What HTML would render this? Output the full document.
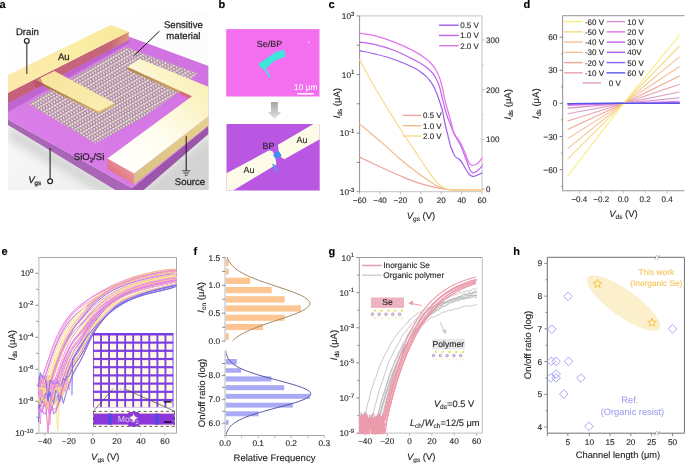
<!DOCTYPE html>
<html><head><meta charset="utf-8"><style>
html,body{margin:0;padding:0;background:#fff;}
svg{display:block;font-family:"Liberation Sans", sans-serif;will-change:transform;}
text{stroke-width:0.12px;text-rendering:geometricPrecision;}
text.ta{stroke-width:0.25px;}
</style></head><body>
<svg width="685" height="463" viewBox="0 0 685 463">
<rect width="685" height="463" fill="#fff"/>
<text x="-0.5" y="7.8" font-size="11" text-anchor="start" font-weight="bold" fill="#000"  stroke="#000">a</text>
<defs>
<clipPath id="clipA"><rect x="8" y="13" width="200.7" height="177"/></clipPath>
<linearGradient id="bgA" x1="0" y1="0" x2="0.3" y2="1">
 <stop offset="0" stop-color="#ffffff"/><stop offset="0.6" stop-color="#fbfbfb"/><stop offset="1" stop-color="#f1f1f1"/></linearGradient>
<filter id="blurA" x="-0.2" y="-0.2" width="1.4" height="1.4"><feGaussianBlur stdDeviation="5"/></filter>
<linearGradient id="shA" x1="0" y1="0" x2="1" y2="0">
 <stop offset="0" stop-color="#f2f2f2"/><stop offset="1" stop-color="#d6d6d6"/></linearGradient>
<linearGradient id="subTop" x1="0" y1="1" x2="1" y2="0">
 <stop offset="0" stop-color="#dc80ea"/><stop offset="0.5" stop-color="#d679e6"/><stop offset="1" stop-color="#cf70df"/></linearGradient>
<linearGradient id="drainTop" x1="0" y1="0" x2="1" y2="0">
 <stop offset="0" stop-color="#fbe9ac"/><stop offset="0.6" stop-color="#faeea4"/><stop offset="1" stop-color="#f8e898"/></linearGradient>
<linearGradient id="drainFront" x1="0" y1="0" x2="1" y2="0">
 <stop offset="0" stop-color="#c5607a"/><stop offset="0.85" stop-color="#c66678"/><stop offset="1" stop-color="#dc9a78"/></linearGradient>
<linearGradient id="drSh" x1="0" y1="0" x2="0" y2="1">
 <stop offset="0" stop-color="#9c4aae" stop-opacity="0.9"/><stop offset="1" stop-color="#c060d4" stop-opacity="0"/></linearGradient>
<linearGradient id="srcTop" x1="0" y1="1" x2="0.8" y2="0">
 <stop offset="0" stop-color="#ffffff"/><stop offset="0.45" stop-color="#fffdf0"/><stop offset="1" stop-color="#f9efb0"/></linearGradient>
<linearGradient id="srcFL" x1="0" y1="1" x2="1" y2="0">
 <stop offset="0" stop-color="#d65a7a"/><stop offset="0.6" stop-color="#e98b90"/><stop offset="1" stop-color="#f3c9a0"/></linearGradient>
<linearGradient id="srcFR" x1="0" y1="0" x2="1" y2="0">
 <stop offset="0" stop-color="#d9c283"/><stop offset="1" stop-color="#e6d08e"/></linearGradient>
<linearGradient id="fingD" x1="0" y1="0" x2="1" y2="1">
 <stop offset="0" stop-color="#f7e49a"/><stop offset="1" stop-color="#faeeb4"/></linearGradient>
<linearGradient id="fingS" x1="0" y1="0" x2="1" y2="0">
 <stop offset="0" stop-color="#b88a4a"/><stop offset="0.8" stop-color="#caa060"/><stop offset="1" stop-color="#d06a78"/></linearGradient>
<linearGradient id="fingS2" x1="0" y1="0" x2="1" y2="0">
 <stop offset="0" stop-color="#a86a40"/><stop offset="0.5" stop-color="#c09048"/><stop offset="1" stop-color="#d8b060"/></linearGradient>
<pattern id="latt" width="3.0" height="6.2" patternUnits="userSpaceOnUse" patternTransform="rotate(-30)">
 <rect width="3.0" height="6.2" fill="#a26cb0"/>
 <circle cx="0.75" cy="1.0" r="1.38" fill="#d8d0b4"/>
 <circle cx="2.25" cy="4.1" r="1.38" fill="#d8d0b4"/>
 <circle cx="3.75" cy="1.0" r="1.38" fill="#d8d0b4"/>
 <circle cx="0.75" cy="7.2" r="1.38" fill="#d8d0b4"/>
 <circle cx="0.6" cy="0.7" r="0.8" fill="#efebdc"/>
 <circle cx="2.1" cy="3.8" r="0.8" fill="#efebdc"/>
</pattern>
</defs>
<g clip-path="url(#clipA)">
<rect x="8" y="13" width="200.7" height="177" fill="url(#bgA)" />
<polygon points="8,124 132,198 215,132 215,200 140,215 8,140" fill="#c8c8c8" stroke="none" stroke-width="1" filter="url(#blurA)" opacity="0.75"/>
<polygon points="150,190 208.5,140 208.5,190" fill="#d4d4d4" stroke="none" stroke-width="1" filter="url(#blurA)" opacity="0.6"/>
<polygon points="8,119.5 132,188 132,200 8,125" fill="#a965b6" stroke="none" stroke-width="1" />
<polygon points="132,188 208.5,125.4 208.5,134 132,200" fill="#9c55ab" stroke="none" stroke-width="1" />
<polygon points="8,100 128,36.2 208.5,66 208.5,125.4 132,188 8,119.5" fill="url(#subTop)" stroke="none" stroke-width="1" />
<polygon points="8,103.3 128.8,40.1 128.8,43 8,112" fill="#a550b8" stroke="none" stroke-width="1" opacity="0.5"/>
<polygon points="27.8,103.5 125.4,46.9 197.5,73.3 172,97 140,119.8 95.3,143.4" fill="url(#latt)" stroke="none" stroke-width="1" />
<polygon points="27.8,103.5 125.4,46.9 197.5,73.3 172,97 140,119.8 95.3,143.4" fill="none" stroke="#cf8ad8" stroke-width="1.2" stroke-opacity="0.5"/>
<polygon points="8,92.8 128.8,31.8 128.8,40.1 8,103.3" fill="url(#drainFront)" stroke="none" stroke-width="1" />
<polygon points="8,75 110.7,25 128.8,31.8 8,92.8" fill="url(#drainTop)" stroke="none" stroke-width="1" />
<polygon points="36,80 98.6,111.4 98.6,113.6 36,82.5" fill="url(#fingS2)" stroke="none" stroke-width="1" />
<polygon points="98.6,111.4 114.6,103.2 114.6,105.6 98.6,113.6" fill="#dcb868" stroke="none" stroke-width="1" />
<polygon points="36,80 54.4,70.9 114.6,103.2 98.6,111.4" fill="url(#fingD)" stroke="none" stroke-width="1" />
<polygon points="33,81 40,77.5 44,85 36,88" fill="#b8486a" stroke="none" stroke-width="1" opacity="0.55"/>
<polygon points="127.3,66.8 192,96.3 192,99 127.3,69.4" fill="url(#fingS)" stroke="none" stroke-width="1" />
<polygon points="180,90.8 192,96.3 192,99.6 180,94.2" fill="#d46a7a" stroke="none" stroke-width="1" />
<polygon points="107.4,158.4 134.1,173.5 134.1,184.6 107.4,169.1" fill="url(#srcFL)" stroke="none" stroke-width="1" />
<polygon points="134.1,173.5 208.5,116.2 208.5,125.4 134.1,184.6" fill="url(#srcFR)" stroke="none" stroke-width="1" />
<polygon points="107.4,158.4 192,96.3 127.3,66.8 139.9,59 208.5,86.8 208.5,116.2 134.1,173.5" fill="url(#srcTop)" stroke="none" stroke-width="1" />
</g>
<text x="27.4" y="35" font-size="9.6" text-anchor="middle" font-weight="normal" fill="#231f20" class="ta" stroke="#231f20">Drain</text>
<circle cx="26.8" cy="40.9" r="2.4" fill="#fff" stroke="#222" stroke-width="1.2"/>
<line x1="26.8" y1="43.3" x2="26.8" y2="73.9" stroke="#333" stroke-width="1.1" />
<text x="63.8" y="59.6" font-size="9.6" text-anchor="middle" font-weight="normal" fill="#231f20" class="ta" stroke="#231f20">Au</text>
<text x="183.4" y="27.9" font-size="9.6" text-anchor="middle" font-weight="normal" fill="#231f20" class="ta" stroke="#231f20">Sensitive</text>
<text x="183.4" y="38.9" font-size="9.6" text-anchor="middle" font-weight="normal" fill="#231f20" class="ta" stroke="#231f20">material</text>
<line x1="159.4" y1="31.2" x2="134.3" y2="55.4" stroke="#111" stroke-width="1" />
<text class="ta" x="104.4" y="160.2" font-size="9.6" fill="#231f20" text-anchor="end" stroke="#231f20">SiO<tspan font-size="6.2" dy="2">2</tspan><tspan dy="-2">/Si</tspan></text>
<line x1="50.1" y1="148" x2="50.1" y2="179" stroke="#222" stroke-width="1.1" />
<circle cx="50.1" cy="181.3" r="2.4" fill="#fff" stroke="#222" stroke-width="1.2"/>
<text class="ta" x="28.2" y="182.7" font-size="9.6" fill="#231f20" stroke="#231f20"><tspan font-style="italic">V</tspan><tspan font-size="6.2" dy="2">gs</tspan></text>
<line x1="186.2" y1="136.2" x2="186.2" y2="170.8" stroke="#222" stroke-width="1.1" />
<line x1="182.2" y1="170.8" x2="190.2" y2="170.8" stroke="#222" stroke-width="0.8" />
<line x1="183.5" y1="173" x2="188.9" y2="173" stroke="#222" stroke-width="0.8" />
<line x1="184.8" y1="175.2" x2="187.6" y2="175.2" stroke="#222" stroke-width="0.8" />
<text x="190" y="185.2" font-size="9.6" text-anchor="middle" font-weight="normal" fill="#231f20" class="ta" stroke="#231f20">Source</text>
<text x="328.5" y="7.8" font-size="11" text-anchor="start" font-weight="bold" fill="#000"  stroke="#000">c</text>
<line x1="359.6" y1="15.9" x2="482" y2="15.9" stroke="#cfcfcf" stroke-width="1.3" />
<line x1="359.6" y1="191.7" x2="482" y2="191.7" stroke="#cfcfcf" stroke-width="1.3" />
<line x1="482" y1="15.9" x2="482" y2="191.7" stroke="#cfcfcf" stroke-width="1.3" />
<line x1="359.6" y1="15.9" x2="359.6" y2="191.7" stroke="#8f8f8f" stroke-width="1" />
<line x1="356.6" y1="191.7" x2="359.6" y2="191.7" stroke="#6d6e71" stroke-width="0.8" />
<line x1="356.6" y1="162.4" x2="359.6" y2="162.4" stroke="#6d6e71" stroke-width="0.8" />
<line x1="356.6" y1="133.1" x2="359.6" y2="133.1" stroke="#6d6e71" stroke-width="0.8" />
<line x1="356.6" y1="103.8" x2="359.6" y2="103.8" stroke="#6d6e71" stroke-width="0.8" />
<line x1="356.6" y1="74.5" x2="359.6" y2="74.5" stroke="#6d6e71" stroke-width="0.8" />
<line x1="356.6" y1="45.2" x2="359.6" y2="45.2" stroke="#6d6e71" stroke-width="0.8" />
<line x1="356.6" y1="15.9" x2="359.6" y2="15.9" stroke="#6d6e71" stroke-width="0.8" />
<text x="354.5" y="19" font-size="8.3" text-anchor="end" fill="#231f20" stroke="#231f20">10<tspan font-size="6.14" dy="-3.3">3</tspan></text>
<text x="354.5" y="77.6" font-size="8.3" text-anchor="end" fill="#231f20" stroke="#231f20">10<tspan font-size="6.14" dy="-3.3">1</tspan></text>
<text x="354.5" y="136.2" font-size="8.3" text-anchor="end" fill="#231f20" stroke="#231f20">10<tspan font-size="6.14" dy="-3.3">-1</tspan></text>
<text x="354.5" y="194.8" font-size="8.3" text-anchor="end" fill="#231f20" stroke="#231f20">10<tspan font-size="6.14" dy="-3.3">-3</tspan></text>
<line x1="359.6" y1="191.7" x2="359.6" y2="194.2" stroke="#a7a9ac" stroke-width="0.8" />
<text x="359.6" y="202.7" font-size="8" text-anchor="middle" font-weight="normal" fill="#231f20"  stroke="#231f20">−60</text>
<line x1="380" y1="191.7" x2="380" y2="194.2" stroke="#a7a9ac" stroke-width="0.8" />
<text x="380" y="202.7" font-size="8" text-anchor="middle" font-weight="normal" fill="#231f20"  stroke="#231f20">−40</text>
<line x1="400.4" y1="191.7" x2="400.4" y2="194.2" stroke="#a7a9ac" stroke-width="0.8" />
<text x="400.4" y="202.7" font-size="8" text-anchor="middle" font-weight="normal" fill="#231f20"  stroke="#231f20">−20</text>
<line x1="420.8" y1="191.7" x2="420.8" y2="194.2" stroke="#a7a9ac" stroke-width="0.8" />
<text x="420.8" y="202.7" font-size="8" text-anchor="middle" font-weight="normal" fill="#231f20"  stroke="#231f20">0</text>
<line x1="441.2" y1="191.7" x2="441.2" y2="194.2" stroke="#a7a9ac" stroke-width="0.8" />
<text x="441.2" y="202.7" font-size="8" text-anchor="middle" font-weight="normal" fill="#231f20"  stroke="#231f20">20</text>
<line x1="461.6" y1="191.7" x2="461.6" y2="194.2" stroke="#a7a9ac" stroke-width="0.8" />
<text x="461.6" y="202.7" font-size="8" text-anchor="middle" font-weight="normal" fill="#231f20"  stroke="#231f20">40</text>
<line x1="482" y1="191.7" x2="482" y2="194.2" stroke="#a7a9ac" stroke-width="0.8" />
<text x="482" y="202.7" font-size="8" text-anchor="middle" font-weight="normal" fill="#231f20"  stroke="#231f20">60</text>
<line x1="482" y1="189.2" x2="484.5" y2="189.2" stroke="#a7a9ac" stroke-width="0.8" />
<text x="486" y="192.1" font-size="8" text-anchor="start" font-weight="normal" fill="#231f20"  stroke="#231f20">0</text>
<line x1="482" y1="139.45" x2="484.5" y2="139.45" stroke="#a7a9ac" stroke-width="0.8" />
<text x="486" y="142.35" font-size="8" text-anchor="start" font-weight="normal" fill="#231f20"  stroke="#231f20">100</text>
<line x1="482" y1="89.7" x2="484.5" y2="89.7" stroke="#a7a9ac" stroke-width="0.8" />
<text x="486" y="92.6" font-size="8" text-anchor="start" font-weight="normal" fill="#231f20"  stroke="#231f20">200</text>
<line x1="482" y1="39.95" x2="484.5" y2="39.95" stroke="#a7a9ac" stroke-width="0.8" />
<text x="486" y="42.85" font-size="8" text-anchor="start" font-weight="normal" fill="#231f20"  stroke="#231f20">300</text>
<line x1="482" y1="164.32" x2="483.5" y2="164.32" stroke="#bcbec0" stroke-width="0.8" />
<line x1="482" y1="114.57" x2="483.5" y2="114.57" stroke="#bcbec0" stroke-width="0.8" />
<line x1="482" y1="64.82" x2="483.5" y2="64.82" stroke="#bcbec0" stroke-width="0.8" />
<text x="0" y="0" font-size="9.5" fill="#231f20" transform="translate(339.6 103.2) rotate(-90)" text-anchor="middle" stroke="#231f20"><tspan font-style="italic">I</tspan><tspan font-size="6.5" dy="2">ds</tspan><tspan dy="-2"> (μA)</tspan></text>
<text x="0" y="0" font-size="9.5" fill="#231f20" transform="translate(510.6 104.3) rotate(-90)" text-anchor="middle" stroke="#231f20"><tspan font-style="italic">I</tspan><tspan font-size="6.5" dy="2">ds</tspan><tspan dy="-2"> (μA)</tspan></text>
<text x="421" y="218.9" font-size="9.5" fill="#231f20" text-anchor="middle" stroke="#231f20"><tspan font-style="italic">V</tspan><tspan font-size="6.5" dy="2">gs</tspan><tspan dy="-2"> (V)</tspan></text>
<path d="M359.6,157.1 C363.87,159.12 378.42,166.08 385.2,169.2 C391.98,172.32 395.27,173.68 400.3,175.8 C405.33,177.92 410.37,180.13 415.4,181.9 C420.43,183.67 425.47,185.18 430.5,186.4 C435.53,187.62 441.52,188.62 445.6,189.2 C449.68,189.78 448.93,189.78 455,189.9 C461.07,190.02 477.5,189.9 482,189.9" fill="none" stroke="#f2a39c" stroke-width="1.2" stroke-linejoin="round" stroke-linecap="round" />
<path d="M359.6,123.9 C363.87,127.52 378.42,139.72 385.2,145.6 C391.98,151.48 395.27,154.92 400.3,159.2 C405.33,163.48 410.37,167.52 415.4,171.3 C420.43,175.08 426.47,179.28 430.5,181.9 C434.53,184.52 436.85,185.73 439.6,187 C442.35,188.27 444.43,189.02 447,189.5 C449.57,189.98 449.17,189.83 455,189.9 C460.83,189.97 477.5,189.9 482,189.9" fill="none" stroke="#f5b98a" stroke-width="1.2" stroke-linejoin="round" stroke-linecap="round" />
<path d="M359.6,59.5 C361.35,62.78 365.83,71.65 370.1,79.2 C374.37,86.75 380.17,96.5 385.2,104.8 C390.23,113.1 395.27,121.18 400.3,129 C405.33,136.82 410.37,144.15 415.4,151.7 C420.43,159.25 426.47,168.77 430.5,174.3 C434.53,179.83 437.08,182.53 439.6,184.9 C442.12,187.27 443.53,187.68 445.6,188.5 C447.67,189.32 445.93,189.57 452,189.8 C458.07,190.03 477,189.88 482,189.9" fill="none" stroke="#f9d98a" stroke-width="1.2" stroke-linejoin="round" stroke-linecap="round" />
<path d="M359.6,50.7 C362.07,51.22 368.5,52.3 374.4,53.8 C380.3,55.3 388.23,57.28 395,59.7 C401.77,62.12 410,65.68 415,68.3 C420,70.92 422.5,73.32 425,75.4 C427.5,77.48 428.5,78.87 430,80.8 C431.5,82.73 432.78,84.63 434,87 C435.22,89.37 436.28,92.33 437.3,95 C438.32,97.67 439.23,100.33 440.1,103 C440.97,105.67 441.8,108.17 442.5,111 C443.2,113.83 443.72,117.17 444.3,120 C444.88,122.83 445.45,125.67 446,128 C446.55,130.33 447.2,132.33 447.6,134 C448,135.67 448.13,136.92 448.4,138 C448.67,139.08 448.85,139.17 449.2,140.5 C449.55,141.83 449.95,144.25 450.5,146 C451.05,147.75 451.73,149.25 452.5,151 C453.27,152.75 454.18,155.25 455.1,156.5 C456.02,157.75 457.1,157.83 458,158.5 C458.9,159.17 459.7,159.58 460.5,160.5 C461.3,161.42 461.88,162.5 462.8,164 C463.72,165.5 464.97,167.83 466,169.5 C467.03,171.17 468.02,172.88 469,174 C469.98,175.12 470.9,175.87 471.9,176.2 C472.9,176.53 474.03,176.2 475,176 C475.97,175.8 476.53,175.5 477.7,175 C478.87,174.5 481.28,173.33 482,173" fill="none" stroke="#9b5cf0" stroke-width="1.2" stroke-linejoin="round" stroke-linecap="round" />
<path d="M359.6,42.1 C362.07,42.48 368.5,42.97 374.4,44.4 C380.3,45.83 388.23,48.07 395,50.7 C401.77,53.33 410,57.62 415,60.2 C420,62.78 422.17,64.15 425,66.2 C427.83,68.25 430.17,70.45 432,72.5 C433.83,74.55 434.78,76.25 436,78.5 C437.22,80.75 438.37,83.25 439.3,86 C440.23,88.75 440.9,92.17 441.6,95 C442.3,97.83 442.88,100.5 443.5,103 C444.12,105.5 444.63,107.67 445.3,110 C445.97,112.33 446.67,114.67 447.5,117 C448.33,119.33 449.47,121.83 450.3,124 C451.13,126.17 451.75,128.08 452.5,130 C453.25,131.92 453.93,133.83 454.8,135.5 C455.67,137.17 456.68,138.25 457.7,140 C458.72,141.75 459.93,143.92 460.9,146 C461.87,148.08 462.65,150.33 463.5,152.5 C464.35,154.67 465.2,156.83 466,159 C466.8,161.17 467.58,163.58 468.3,165.5 C469.02,167.42 469.58,169.28 470.3,170.5 C471.02,171.72 471.82,172.5 472.6,172.8 C473.38,173.1 474.03,172.77 475,172.3 C475.97,171.83 477.23,171.05 478.4,170 C479.57,168.95 481.4,166.67 482,166" fill="none" stroke="#c061ee" stroke-width="1.2" stroke-linejoin="round" stroke-linecap="round" />
<path d="M359.6,33.2 C362.07,33.62 368.5,34.17 374.4,35.7 C380.3,37.23 388.23,39.75 395,42.4 C401.77,45.05 410,48.98 415,51.6 C420,54.22 422.17,55.95 425,58.1 C427.83,60.25 430.08,62.35 432,64.5 C433.92,66.65 435.2,68.67 436.5,71 C437.8,73.33 438.87,75.92 439.8,78.5 C440.73,81.08 441.42,83.75 442.1,86.5 C442.78,89.25 443.3,92.25 443.9,95 C444.5,97.75 445.05,100.42 445.7,103 C446.35,105.58 447.05,107.83 447.8,110.5 C448.55,113.17 449.52,116.5 450.2,119 C450.88,121.5 451.38,123.5 451.9,125.5 C452.42,127.5 452.7,129.33 453.3,131 C453.9,132.67 454.58,134 455.5,135.5 C456.42,137 457.78,138.42 458.8,140 C459.82,141.58 460.77,143.33 461.6,145 C462.43,146.67 463.08,148.33 463.8,150 C464.52,151.67 465.23,153.33 465.9,155 C466.57,156.67 467.15,158.53 467.8,160 C468.45,161.47 469,162.92 469.8,163.8 C470.6,164.68 471.57,165.22 472.6,165.3 C473.63,165.38 474.93,164.85 476,164.3 C477.07,163.75 478,163.05 479,162 C480,160.95 481.5,158.67 482,158" fill="none" stroke="#e374ea" stroke-width="1.2" stroke-linejoin="round" stroke-linecap="round" />
<line x1="439" y1="25.2" x2="458.7" y2="25.2" stroke="#9b5cf0" stroke-width="1.4" />
<text x="460.2" y="28" font-size="8" text-anchor="start" font-weight="normal" fill="#231f20"  stroke="#231f20">0.5 V</text>
<line x1="439" y1="35.45" x2="458.7" y2="35.45" stroke="#c061ee" stroke-width="1.4" />
<text x="460.2" y="38.25" font-size="8" text-anchor="start" font-weight="normal" fill="#231f20"  stroke="#231f20">1.0 V</text>
<line x1="439" y1="45.7" x2="458.7" y2="45.7" stroke="#e374ea" stroke-width="1.4" />
<text x="460.2" y="48.5" font-size="8" text-anchor="start" font-weight="normal" fill="#231f20"  stroke="#231f20">2.0 V</text>
<line x1="402.7" y1="115.4" x2="421.4" y2="115.4" stroke="#f2a39c" stroke-width="1.4" />
<text x="423" y="118.2" font-size="8" text-anchor="start" font-weight="normal" fill="#231f20"  stroke="#231f20">0.5 V</text>
<line x1="402.7" y1="125.7" x2="421.4" y2="125.7" stroke="#f5b98a" stroke-width="1.4" />
<text x="423" y="128.5" font-size="8" text-anchor="start" font-weight="normal" fill="#231f20"  stroke="#231f20">1.0 V</text>
<line x1="402.7" y1="136" x2="421.4" y2="136" stroke="#f9d98a" stroke-width="1.4" />
<text x="423" y="138.8" font-size="8" text-anchor="start" font-weight="normal" fill="#231f20"  stroke="#231f20">2.0 V</text>
<text x="523.5" y="7.8" font-size="11" text-anchor="start" font-weight="bold" fill="#000"  stroke="#000">d</text>
<line x1="562.6" y1="15.6" x2="684.4" y2="15.6" stroke="#a8a8a8" stroke-width="1.1" />
<line x1="562.6" y1="190.8" x2="684.4" y2="190.8" stroke="#9a9a9a" stroke-width="1.1" />
<line x1="562.6" y1="15.6" x2="562.6" y2="190.8" stroke="#9a9a9a" stroke-width="1.1" />
<line x1="559.6" y1="37.2" x2="562.6" y2="37.2" stroke="#6d6e71" stroke-width="0.8" />
<text x="557.5" y="40.2" font-size="8.4" text-anchor="end" font-weight="normal" fill="#231f20"  stroke="#231f20">60</text>
<line x1="559.6" y1="70.3" x2="562.6" y2="70.3" stroke="#6d6e71" stroke-width="0.8" />
<text x="557.5" y="73.3" font-size="8.4" text-anchor="end" font-weight="normal" fill="#231f20"  stroke="#231f20">30</text>
<line x1="559.6" y1="103.4" x2="562.6" y2="103.4" stroke="#6d6e71" stroke-width="0.8" />
<text x="557.5" y="106.4" font-size="8.4" text-anchor="end" font-weight="normal" fill="#231f20"  stroke="#231f20">0</text>
<line x1="559.6" y1="136.5" x2="562.6" y2="136.5" stroke="#6d6e71" stroke-width="0.8" />
<text x="557.5" y="139.5" font-size="8.4" text-anchor="end" font-weight="normal" fill="#231f20"  stroke="#231f20">−30</text>
<line x1="559.6" y1="169.6" x2="562.6" y2="169.6" stroke="#6d6e71" stroke-width="0.8" />
<text x="557.5" y="172.6" font-size="8.4" text-anchor="end" font-weight="normal" fill="#231f20"  stroke="#231f20">−60</text>
<line x1="561.1" y1="53.75" x2="562.6" y2="53.75" stroke="#6d6e71" stroke-width="0.8" />
<line x1="561.1" y1="86.85" x2="562.6" y2="86.85" stroke="#6d6e71" stroke-width="0.8" />
<line x1="561.1" y1="119.95" x2="562.6" y2="119.95" stroke="#6d6e71" stroke-width="0.8" />
<line x1="561.1" y1="153.05" x2="562.6" y2="153.05" stroke="#6d6e71" stroke-width="0.8" />
<line x1="561.1" y1="186.15" x2="562.6" y2="186.15" stroke="#6d6e71" stroke-width="0.8" />
<line x1="579.3" y1="190.8" x2="579.3" y2="193.3" stroke="#a7a9ac" stroke-width="0.8" />
<text x="579.3" y="201.8" font-size="8" text-anchor="middle" font-weight="normal" fill="#231f20"  stroke="#231f20">−0.4</text>
<line x1="601.25" y1="190.8" x2="601.25" y2="193.3" stroke="#a7a9ac" stroke-width="0.8" />
<text x="601.25" y="201.8" font-size="8" text-anchor="middle" font-weight="normal" fill="#231f20"  stroke="#231f20">−0.2</text>
<line x1="623.2" y1="190.8" x2="623.2" y2="193.3" stroke="#a7a9ac" stroke-width="0.8" />
<text x="623.2" y="201.8" font-size="8" text-anchor="middle" font-weight="normal" fill="#231f20"  stroke="#231f20">0.0</text>
<line x1="645.15" y1="190.8" x2="645.15" y2="193.3" stroke="#a7a9ac" stroke-width="0.8" />
<text x="645.15" y="201.8" font-size="8" text-anchor="middle" font-weight="normal" fill="#231f20"  stroke="#231f20">0.2</text>
<line x1="667.1" y1="190.8" x2="667.1" y2="193.3" stroke="#a7a9ac" stroke-width="0.8" />
<text x="667.1" y="201.8" font-size="8" text-anchor="middle" font-weight="normal" fill="#231f20"  stroke="#231f20">0.4</text>
<line x1="568.33" y1="190.8" x2="568.33" y2="192.3" stroke="#bcbec0" stroke-width="0.8" />
<line x1="590.28" y1="190.8" x2="590.28" y2="192.3" stroke="#bcbec0" stroke-width="0.8" />
<line x1="612.23" y1="190.8" x2="612.23" y2="192.3" stroke="#bcbec0" stroke-width="0.8" />
<line x1="634.18" y1="190.8" x2="634.18" y2="192.3" stroke="#bcbec0" stroke-width="0.8" />
<line x1="656.12" y1="190.8" x2="656.12" y2="192.3" stroke="#bcbec0" stroke-width="0.8" />
<line x1="678.08" y1="190.8" x2="678.08" y2="192.3" stroke="#bcbec0" stroke-width="0.8" />
<text x="0" y="0" font-size="9.5" fill="#231f20" transform="translate(539.3 103.6) rotate(-90)" text-anchor="middle" stroke="#231f20"><tspan font-style="italic">I</tspan><tspan font-size="6.5" dy="2">ds</tspan><tspan dy="-2"> (μA)</tspan></text>
<text x="623.5" y="217.2" font-size="9.5" fill="#231f20" text-anchor="middle" stroke="#231f20"><tspan font-style="italic">V</tspan><tspan font-size="6.5" dy="2">ds</tspan><tspan dy="-2"> (V)</tspan></text>
<polyline points="567.6,103.6 623.5,103.4 679.6,103.3" fill="none" stroke="#5458e8" stroke-width="1.1"/>
<polyline points="567.6,103.7 623.5,103.4 679.6,103.2" fill="none" stroke="#8463f1" stroke-width="1.1"/>
<polyline points="567.6,103.9 623.5,103.4 679.6,103" fill="none" stroke="#a062f0" stroke-width="1.1"/>
<polyline points="567.6,104.3 623.5,103.4 679.6,102.6" fill="none" stroke="#c262ef" stroke-width="1.1"/>
<polyline points="567.6,105.5 623.5,103.4 679.6,101.2" fill="none" stroke="#e874e6" stroke-width="1.1"/>
<polyline points="567.6,108.1 623.5,103.4 679.6,97.7" fill="none" stroke="#d98fc9" stroke-width="1.1"/>
<polyline points="567.6,113.7 623.5,103.4 679.6,92" fill="none" stroke="#dba0c8" stroke-width="1.1"/>
<polyline points="567.6,121 623.5,103.4 679.6,84.2" fill="none" stroke="#e8a0ac" stroke-width="1.1"/>
<polyline points="567.6,129.4 623.5,103.4 679.6,76" fill="none" stroke="#f0a696" stroke-width="1.1"/>
<polyline points="567.6,138.6 623.5,103.4 679.6,66.5" fill="none" stroke="#f5bd90" stroke-width="1.1"/>
<polyline points="567.6,148.6 623.5,103.4 679.6,56.6" fill="none" stroke="#f7c28c" stroke-width="1.1"/>
<polyline points="567.6,159.1 623.5,103.4 679.6,46" fill="none" stroke="#f8d982" stroke-width="1.1"/>
<polyline points="567.6,176.1 623.5,103.4 679.6,35.2" fill="none" stroke="#f6ee83" stroke-width="1.1"/>
<polyline points="567.6,103.7 623.5,103.4 679.6,103.2" fill="none" stroke="#8463f1" stroke-width="1.3"/>
<polyline points="567.6,103.6 623.5,103.4 679.6,103.3" fill="none" stroke="#5458e8" stroke-width="1.3"/>
<line x1="564.3" y1="21.6" x2="582.7" y2="21.6" stroke="#f6ee83" stroke-width="1.4" />
<text x="584.9" y="24.5" font-size="8" text-anchor="start" font-weight="normal" fill="#231f20"  stroke="#231f20">-60 V</text>
<line x1="606.6" y1="21.6" x2="625.2" y2="21.6" stroke="#d98fc9" stroke-width="1.4" />
<text x="627.3" y="24.5" font-size="8" text-anchor="start" font-weight="normal" fill="#231f20"  stroke="#231f20">10 V</text>
<line x1="564.3" y1="31.85" x2="582.7" y2="31.85" stroke="#f8d982" stroke-width="1.4" />
<text x="584.9" y="34.75" font-size="8" text-anchor="start" font-weight="normal" fill="#231f20"  stroke="#231f20">-50 V</text>
<line x1="606.6" y1="31.85" x2="625.2" y2="31.85" stroke="#e874e6" stroke-width="1.4" />
<text x="627.3" y="34.75" font-size="8" text-anchor="start" font-weight="normal" fill="#231f20"  stroke="#231f20">20 V</text>
<line x1="564.3" y1="42.1" x2="582.7" y2="42.1" stroke="#f7c28c" stroke-width="1.4" />
<text x="584.9" y="45" font-size="8" text-anchor="start" font-weight="normal" fill="#231f20"  stroke="#231f20">-40 V</text>
<line x1="606.6" y1="42.1" x2="625.2" y2="42.1" stroke="#c262ef" stroke-width="1.4" />
<text x="627.3" y="45" font-size="8" text-anchor="start" font-weight="normal" fill="#231f20"  stroke="#231f20">30 V</text>
<line x1="564.3" y1="52.35" x2="582.7" y2="52.35" stroke="#f5bd90" stroke-width="1.4" />
<text x="584.9" y="55.25" font-size="8" text-anchor="start" font-weight="normal" fill="#231f20"  stroke="#231f20">-30 V</text>
<line x1="606.6" y1="52.35" x2="625.2" y2="52.35" stroke="#a062f0" stroke-width="1.4" />
<text x="627.3" y="55.25" font-size="8" text-anchor="start" font-weight="normal" fill="#231f20"  stroke="#231f20">40V</text>
<line x1="564.3" y1="62.6" x2="582.7" y2="62.6" stroke="#f0a696" stroke-width="1.4" />
<text x="584.9" y="65.5" font-size="8" text-anchor="start" font-weight="normal" fill="#231f20"  stroke="#231f20">-20 V</text>
<line x1="606.6" y1="62.6" x2="625.2" y2="62.6" stroke="#8463f1" stroke-width="1.4" />
<text x="627.3" y="65.5" font-size="8" text-anchor="start" font-weight="normal" fill="#231f20"  stroke="#231f20">50 V</text>
<line x1="564.3" y1="72.85" x2="582.7" y2="72.85" stroke="#e8a0ac" stroke-width="1.4" />
<text x="584.9" y="75.75" font-size="8" text-anchor="start" font-weight="normal" fill="#231f20"  stroke="#231f20">-10 V</text>
<line x1="606.6" y1="72.85" x2="625.2" y2="72.85" stroke="#5458e8" stroke-width="1.4" />
<text x="627.3" y="75.75" font-size="8" text-anchor="start" font-weight="normal" fill="#231f20"  stroke="#231f20">60 V</text>
<line x1="582.5" y1="82.9" x2="601" y2="82.9" stroke="#dba0c8" stroke-width="1.4" />
<text x="608.8" y="85.8" font-size="8" text-anchor="start" font-weight="normal" fill="#231f20"  stroke="#231f20">0 V</text>
<text x="1.5" y="255" font-size="11" text-anchor="start" font-weight="bold" fill="#000"  stroke="#000">e</text>
<line x1="38.4" y1="257.5" x2="176.5" y2="257.5" stroke="#a6a6a6" stroke-width="1" />
<line x1="38.4" y1="433.2" x2="176.5" y2="433.2" stroke="#a6a6a6" stroke-width="1" />
<line x1="176.5" y1="257.5" x2="176.5" y2="433.2" stroke="#a6a6a6" stroke-width="1" />
<line x1="38.8" y1="257.5" x2="38.8" y2="433.2" stroke="#d5d5d5" stroke-width="1.7" />
<line x1="35.4" y1="273.3" x2="38.4" y2="273.3" stroke="#6d6e71" stroke-width="0.8" />
<line x1="36.4" y1="289.3" x2="38.4" y2="289.3" stroke="#6d6e71" stroke-width="0.8" />
<line x1="35.4" y1="305.3" x2="38.4" y2="305.3" stroke="#6d6e71" stroke-width="0.8" />
<line x1="36.4" y1="321.3" x2="38.4" y2="321.3" stroke="#6d6e71" stroke-width="0.8" />
<line x1="35.4" y1="337.3" x2="38.4" y2="337.3" stroke="#6d6e71" stroke-width="0.8" />
<line x1="36.4" y1="353.3" x2="38.4" y2="353.3" stroke="#6d6e71" stroke-width="0.8" />
<line x1="35.4" y1="369.3" x2="38.4" y2="369.3" stroke="#6d6e71" stroke-width="0.8" />
<line x1="36.4" y1="385.3" x2="38.4" y2="385.3" stroke="#6d6e71" stroke-width="0.8" />
<line x1="35.4" y1="401.3" x2="38.4" y2="401.3" stroke="#6d6e71" stroke-width="0.8" />
<line x1="36.4" y1="417.3" x2="38.4" y2="417.3" stroke="#6d6e71" stroke-width="0.8" />
<line x1="35.4" y1="433.3" x2="38.4" y2="433.3" stroke="#6d6e71" stroke-width="0.8" />
<text x="33.3" y="276.4" font-size="8.3" text-anchor="end" fill="#231f20" stroke="#231f20">10<tspan font-size="6.14" dy="-3.3">0</tspan></text>
<text x="33.3" y="308.4" font-size="8.3" text-anchor="end" fill="#231f20" stroke="#231f20">10<tspan font-size="6.14" dy="-3.3">-2</tspan></text>
<text x="33.3" y="340.4" font-size="8.3" text-anchor="end" fill="#231f20" stroke="#231f20">10<tspan font-size="6.14" dy="-3.3">-4</tspan></text>
<text x="33.3" y="372.4" font-size="8.3" text-anchor="end" fill="#231f20" stroke="#231f20">10<tspan font-size="6.14" dy="-3.3">-6</tspan></text>
<text x="33.3" y="404.4" font-size="8.3" text-anchor="end" fill="#231f20" stroke="#231f20">10<tspan font-size="6.14" dy="-3.3">-8</tspan></text>
<text x="33.3" y="436.4" font-size="8.3" text-anchor="end" fill="#231f20" stroke="#231f20">10<tspan font-size="6.14" dy="-3.3">-10</tspan></text>
<line x1="44.9" y1="433.2" x2="44.9" y2="435.7" stroke="#a7a9ac" stroke-width="0.8" />
<text x="44.9" y="444.4" font-size="8.3" text-anchor="middle" font-weight="normal" fill="#231f20"  stroke="#231f20">−40</text>
<line x1="68.9" y1="433.2" x2="68.9" y2="435.7" stroke="#a7a9ac" stroke-width="0.8" />
<text x="68.9" y="444.4" font-size="8.3" text-anchor="middle" font-weight="normal" fill="#231f20"  stroke="#231f20">−20</text>
<line x1="92.9" y1="433.2" x2="92.9" y2="435.7" stroke="#a7a9ac" stroke-width="0.8" />
<text x="92.9" y="444.4" font-size="8.3" text-anchor="middle" font-weight="normal" fill="#231f20"  stroke="#231f20">0</text>
<line x1="116.9" y1="433.2" x2="116.9" y2="435.7" stroke="#a7a9ac" stroke-width="0.8" />
<text x="116.9" y="444.4" font-size="8.3" text-anchor="middle" font-weight="normal" fill="#231f20"  stroke="#231f20">20</text>
<line x1="140.9" y1="433.2" x2="140.9" y2="435.7" stroke="#a7a9ac" stroke-width="0.8" />
<text x="140.9" y="444.4" font-size="8.3" text-anchor="middle" font-weight="normal" fill="#231f20"  stroke="#231f20">40</text>
<line x1="164.9" y1="433.2" x2="164.9" y2="435.7" stroke="#a7a9ac" stroke-width="0.8" />
<text x="164.9" y="444.4" font-size="8.3" text-anchor="middle" font-weight="normal" fill="#231f20"  stroke="#231f20">60</text>
<text x="0" y="0" font-size="9.5" fill="#231f20" transform="translate(14.6 345.2) rotate(-90)" text-anchor="middle" stroke="#231f20"><tspan font-style="italic">I</tspan><tspan font-size="6.46" dy="2">ds</tspan><tspan dy="-2"> (μA)</tspan></text>
<text x="105.3" y="459.8" font-size="9.5" fill="#231f20" text-anchor="middle" stroke="#231f20"><tspan font-style="italic">V</tspan><tspan font-size="6.46" dy="2">gs</tspan><tspan dy="-2"> (V)</tspan></text>
<polyline points="38.42,402.67 40.34,410.23 42.26,410.61 44.18,405.18 46.1,398.31 48.02,391.48 51.02,381.05 54.02,371.45 57.02,363.09 60.02,355.53 63.02,348.72 66.02,342.75 69.02,337.54 72.02,333.19 75.02,329.79 78.02,327.03 81.02,324.43 84.02,321.58 87.02,318.54 90.02,315.45 93.02,312.53 96.02,310 99.02,307.76 102.02,305.54 105.02,303.38 108.02,301.31 111.02,299.34 114.02,297.53 117.02,295.91 120.02,294.49 123.02,293.17 126.02,291.94 129.02,290.79 132.02,289.72 135.02,288.73 138.02,287.8 141.02,286.94 144.02,286.14 147.02,285.38 150.02,284.66 153.02,283.97 156.02,283.32 159.02,282.69 162.02,282.09 165.02,281.5 168.02,280.91 171.02,280.33 174.02,279.74" fill="none" stroke="#7070f0" stroke-width="0.95" stroke-linejoin="round" stroke-linecap="round" />
<polyline points="38.42,382.45 40.34,396.24 42.26,385.75 44.18,379.79 46.1,373.91 48.02,367.95 51.02,358.68 54.02,350.12 57.02,342.84 60.02,336.36 63.02,330.69 66.02,325.85 69.02,321.62 72.02,318.03 75.02,315.07 78.02,312.52 81.02,310.2 84.02,307.94 87.02,305.68 90.02,303.47 93.02,301.39 96.02,299.51 99.02,297.77 102.02,296.06 105.02,294.39 108.02,292.76 111.02,291.21 114.02,289.73 117.02,288.37 120.02,287.11 123.02,285.91 126.02,284.75 129.02,283.65 132.02,282.62 135.02,281.66 138.02,280.79 141.02,280 144.02,279.28 147.02,278.57 150.02,277.88 153.02,277.22 156.02,276.59 159.02,275.99 162.02,275.44 165.02,274.93 168.02,274.48 171.02,274.08 174.02,273.75" fill="none" stroke="#b467f2" stroke-width="0.95" stroke-linejoin="round" stroke-linecap="round" />
<polyline points="38.42,395.53 40.34,385.37 42.26,395.33 44.18,382.7 46.1,394.88 48.02,395.13 49.94,385.1 51.86,388.53 53.78,393.84 55.7,388.86 57.62,382.83 59.54,377.06 61.46,371.55 64.46,363.61 67.46,356.53 70.46,350.43 73.46,345.51 76.46,341.74 79.46,338.46 82.46,334.88 85.46,330.85 88.46,326.63 91.46,322.51 94.46,318.8 97.46,315.75 100.46,312.88 103.46,310.12 106.46,307.5 109.46,305.04 112.46,302.78 115.46,300.76 118.46,299.02 121.46,297.51 124.46,296.12 127.46,294.84 130.46,293.66 133.46,292.57 136.46,291.56 139.46,290.61 142.46,289.71 145.46,288.88 148.46,288.11 151.46,287.38 154.46,286.7 157.46,286.04 160.46,285.4 163.46,284.77 166.46,284.13 169.46,283.47 172.46,282.79 175.46,282.07" fill="none" stroke="#b467f2" stroke-width="0.95" stroke-linejoin="round" stroke-linecap="round" />
<polyline points="38.42,394.23 40.34,383.31 42.26,392.91 44.18,394.26 46.1,384.99 48.02,395.85 49.94,389.62 51.86,382.6 53.78,375.97 55.7,369.86 58.7,361.06 61.7,352.93 64.7,345.61 67.7,339.06 70.7,333.32 73.7,328.46 76.7,324.34 79.7,320.54 82.7,316.7 85.7,312.82 88.7,309.02 91.7,305.49 94.7,302.34 97.7,299.62 100.7,297.09 103.7,294.74 106.7,292.56 109.7,290.55 112.7,288.72 115.7,287.05 118.7,285.53 121.7,284.13 124.7,282.8 127.7,281.55 130.7,280.37 133.7,279.29 136.7,278.31 139.7,277.45 142.7,276.69 145.7,275.96 148.7,275.24 151.7,274.54 154.7,273.88 157.7,273.26 160.7,272.69 163.7,272.18 166.7,271.75 169.7,271.39 172.7,271.12 175.7,270.96" fill="none" stroke="#9a6af0" stroke-width="0.95" stroke-linejoin="round" stroke-linecap="round" />
<polyline points="38.42,390.23 40.34,393.2 42.26,391 44.18,389.15 46.1,380.69 48.02,386.23 49.94,391.87 51.86,381.42 53.78,390.91 55.7,383.85 57.62,391.67 59.54,381.8 61.46,388.43 63.38,393.94 65.3,391.07 67.22,381.52 69.14,376.23 71.06,371.52 72.98,367.48 75.98,362.53 78.98,358.36 81.98,353.76 84.98,348.32 87.98,342.51 90.98,336.77 93.98,331.59 96.98,327.38 99.98,323.58 102.98,319.96 105.98,316.56 108.98,313.41 111.98,310.56 114.98,308.05 117.98,305.93 120.98,304.16 123.98,302.57 126.98,301.15 129.98,299.85 132.98,298.67 135.98,297.57 138.98,296.53 141.98,295.53 144.98,294.6 147.98,293.76 150.98,293 153.98,292.28 156.98,291.59 159.98,290.91 162.98,290.22 165.98,289.5 168.98,288.72 171.98,287.87 174.98,286.93" fill="none" stroke="#fbe08a" stroke-width="0.95" stroke-linejoin="round" stroke-linecap="round" />
<polyline points="38.42,390.89 40.34,392.43 42.26,385.37 44.18,384.57 46.1,380.21 48.02,393.18 49.94,387 51.86,390.88 53.78,385.18 55.7,388.21 57.62,379.3 59.54,383.46 61.46,377.36 63.38,371.57 65.3,366.13 68.3,358.39 71.3,351.73 74.3,346.34 77.3,341.98 80.3,337.85 83.3,333.29 86.3,328.41 89.3,323.53 92.3,318.95 95.3,314.97 98.3,311.62 101.3,308.48 104.3,305.53 107.3,302.8 110.3,300.29 113.3,298.04 116.3,296.04 119.3,294.32 122.3,292.78 125.3,291.36 128.3,290.05 131.3,288.84 134.3,287.73 137.3,286.72 140.3,285.78 143.3,284.93 146.3,284.12 149.3,283.37 152.3,282.65 155.3,281.97 158.3,281.33 161.3,280.71 164.3,280.12 167.3,279.55 170.3,279 173.3,278.47 176.3,277.95" fill="none" stroke="#e47cea" stroke-width="0.95" stroke-linejoin="round" stroke-linecap="round" />
<polyline points="38.42,385.31 40.34,375.47 42.26,385.26 44.18,378.62 46.1,380.97 48.02,384.48 49.94,374.95 51.86,374.93 53.78,368.58 55.7,362.77 57.62,357.37 60.62,349.47 63.62,342.35 66.62,336.02 69.62,330.42 72.62,325.6 75.62,321.53 78.62,317.89 81.62,314.36 84.62,310.81 87.62,307.33 90.62,304.05 93.62,301.07 96.62,298.47 99.62,296.09 102.62,293.86 105.62,291.79 108.62,289.86 111.62,288.09 114.62,286.46 117.62,284.96 120.62,283.59 123.62,282.27 126.62,281.02 129.62,279.84 132.62,278.74 135.62,277.74 138.62,276.85 141.62,276.08 144.62,275.36 147.62,274.65 150.62,273.95 153.62,273.28 156.62,272.65 159.62,272.07 162.62,271.55 165.62,271.1 168.62,270.73 171.62,270.45 174.62,270.28" fill="none" stroke="#d983ef" stroke-width="0.95" stroke-linejoin="round" stroke-linecap="round" />
<polyline points="38.42,407.25 40.34,399.34 42.26,406.31 44.18,405.07 46.1,398.06 48.02,391.08 49.94,384.19 52.94,373.95 55.94,364.87 58.94,356.75 61.94,349.33 64.94,342.74 67.94,336.9 70.94,331.86 73.94,327.69 76.94,324.24 79.94,321.11 82.94,317.9 85.94,314.57 88.94,311.26 91.94,308.12 94.94,305.32 97.94,302.9 100.94,300.6 103.94,298.41 106.94,296.33 109.94,294.38 112.94,292.58 115.94,290.94 118.94,289.47 121.94,288.12 124.94,286.84 127.94,285.64 130.94,284.51 133.94,283.47 136.94,282.52 139.94,281.65 142.94,280.87 145.94,280.13 148.94,279.41 151.94,278.71 154.94,278.06 157.94,277.43 160.94,276.85 163.94,276.31 166.94,275.81 169.94,275.36 172.94,274.96 175.94,274.61" fill="none" stroke="#ea84e6" stroke-width="0.95" stroke-linejoin="round" stroke-linecap="round" />
<polyline points="38.42,387.73 40.34,394.97 42.26,381.82 44.18,386.01 46.1,379.78 48.02,373.5 49.94,367.22 52.94,357.86 55.94,349.65 58.94,342.42 61.94,335.93 64.94,330.29 67.94,325.33 70.94,321.03 73.94,317.4 76.94,314.28 79.94,311.45 82.94,308.72 85.94,306.04 88.94,303.43 91.94,300.98 94.94,298.76 97.94,296.77 100.94,294.87 103.94,293.05 106.94,291.31 109.94,289.67 112.94,288.12 115.94,286.69 118.94,285.36 121.94,284.11 124.94,282.9 127.94,281.74 130.94,280.65 133.94,279.64 136.94,278.72 139.94,277.9 142.94,277.18 145.94,276.47 148.94,275.77 151.94,275.1 154.94,274.45 157.94,273.85 160.94,273.29 163.94,272.78 166.94,272.35 169.94,271.99 172.94,271.71 175.94,271.53" fill="none" stroke="#f7c39a" stroke-width="0.95" stroke-linejoin="round" stroke-linecap="round" />
<polyline points="38.42,395.82 40.34,400.95 42.26,401.73 44.18,395.24 46.1,392.1 48.02,393.31 49.94,418.67 51.86,392.4 53.78,399.72 55.7,392.66 57.62,389.32 59.54,392.57 61.46,395.96 63.38,392.46 65.3,386.3 67.22,380.57 69.14,375.33 72.14,368.34 75.14,363.02 78.14,358.8 81.14,354.49 84.14,349.3 87.14,343.62 90.14,337.89 93.14,332.56 96.14,328.13 99.14,324.33 102.14,320.69 105.14,317.25 108.14,314.06 111.14,311.14 114.14,308.55 117.14,306.33 120.14,304.49 123.14,302.86 126.14,301.4 129.14,300.08 132.14,298.87 135.14,297.75 138.14,296.7 141.14,295.7 144.14,294.74 147.14,293.88 150.14,293.1 153.14,292.37 156.14,291.68 159.14,291 162.14,290.31 165.14,289.6 168.14,288.85 171.14,288.03 174.14,287.12" fill="none" stroke="#e47cea" stroke-width="0.95" stroke-linejoin="round" stroke-linecap="round" />
<polyline points="38.42,397.67 40.34,395.08 42.26,390 44.18,388.55 46.1,399.79 48.02,398.26 49.94,396.27 51.86,395.11 53.78,390.14 55.7,395.71 57.62,401.77 59.54,393.23 61.46,386.59 63.38,380.25 65.3,374.27 68.3,365.73 71.3,358.36 74.3,352.38 77.3,347.54 80.3,342.92 83.3,337.77 86.3,332.26 89.3,326.76 92.3,321.62 95.3,317.18 98.3,313.46 101.3,309.99 104.3,306.76 107.3,303.8 110.3,301.1 113.3,298.7 116.3,296.58 119.3,294.77 122.3,293.15 125.3,291.67 128.3,290.31 131.3,289.06 134.3,287.92 137.3,286.88 140.3,285.93 143.3,285.05 146.3,284.23 149.3,283.46 152.3,282.74 155.3,282.05 158.3,281.4 161.3,280.78 164.3,280.18 167.3,279.61 170.3,279.06 173.3,278.52 176.3,278" fill="none" stroke="#fbe08a" stroke-width="0.95" stroke-linejoin="round" stroke-linecap="round" />
<polyline points="38.42,406.17 40.34,423.93 42.26,390.48 44.18,393.22 46.1,387.47 48.02,384.46 49.94,380.09 51.86,391.02 53.78,383.8 55.7,377.54 57.62,371.69 59.54,366.11 62.54,357.95 65.54,350.61 68.54,344.09 71.54,338.49 74.54,333.91 77.54,330.09 80.54,326.48 83.54,322.63 86.54,318.63 89.54,314.68 92.54,311.01 95.54,307.8 98.54,305.03 101.54,302.41 104.54,299.93 107.54,297.63 110.54,295.5 113.54,293.55 116.54,291.81 119.54,290.27 122.54,288.85 125.54,287.53 128.54,286.29 131.54,285.14 134.54,284.08 137.54,283.12 140.54,282.25 143.54,281.45 146.54,280.69 149.54,279.96 152.54,279.27 155.54,278.61 158.54,277.98 161.54,277.4 164.54,276.85 167.54,276.35 170.54,275.89 173.54,275.47 176.54,275.19" fill="none" stroke="#ef8ee0" stroke-width="0.95" stroke-linejoin="round" stroke-linecap="round" />
<polyline points="38.42,403.63 40.34,401.23 42.26,398.72 44.18,395.32 46.1,394.81 48.02,404.95 49.94,395.81 51.86,399.68 53.78,393.11 55.7,398.02 57.62,394.74 59.54,395.92 61.46,389.58 63.38,383.53 65.3,377.85 68.3,369.81 71.3,363 74.3,357.68 77.3,353.62 80.3,349.8 83.3,345.32 86.3,340.28 89.3,335.07 92.3,330.1 95.3,325.79 98.3,322.25 101.3,318.87 104.3,315.64 107.3,312.61 110.3,309.81 113.3,307.29 116.3,305.09 119.3,303.25 122.3,301.65 125.3,300.19 128.3,298.88 131.3,297.67 134.3,296.56 137.3,295.52 140.3,294.53 143.3,293.58 146.3,292.72 149.3,291.93 152.3,291.2 155.3,290.5 158.3,289.83 161.3,289.16 164.3,288.48 167.3,287.76 170.3,287 173.3,286.17 176.3,285.24" fill="none" stroke="#f39bd0" stroke-width="0.95" stroke-linejoin="round" stroke-linecap="round" />
<polyline points="38.42,394.66 40.34,396.11 42.26,393.49 44.18,392.37 46.1,395.06 48.02,393.34 49.94,401.43 51.86,400.1 53.78,393.62 55.7,386.88 57.62,380.57 60.62,371.2 63.62,362.54 66.62,354.73 69.62,347.81 72.62,341.94 75.62,337.18 78.62,333.03 81.62,328.83 84.62,324.32 87.62,319.72 90.62,315.31 93.62,311.31 96.62,307.92 99.62,304.89 102.62,302.05 105.62,299.41 108.62,296.98 111.62,294.77 114.62,292.79 117.62,291.03 120.62,289.47 123.62,288.03 126.62,286.68 129.62,285.43 132.62,284.28 135.62,283.23 138.62,282.28 141.62,281.43 144.62,280.64 147.62,279.88 150.62,279.15 153.62,278.46 156.62,277.81 159.62,277.2 162.62,276.63 165.62,276.1 168.62,275.62 171.62,275.19 174.62,274.82" fill="none" stroke="#f8e27c" stroke-width="0.95" stroke-linejoin="round" stroke-linecap="round" />
<polyline points="38.42,408.18 40.34,406.61 42.26,397.75 44.18,406.96 46.1,398.68 48.02,399.17 49.94,402 51.86,407.86 53.78,401.51 55.7,398.6 57.62,397.25 59.54,390.51 61.46,384 64.46,374.46 67.46,365.83 70.46,358.29 73.46,352.06 76.46,347.09 79.46,342.6 82.46,337.74 85.46,332.44 88.46,327.06 91.46,321.93 94.46,317.39 97.46,313.63 100.46,310.18 103.46,306.96 106.46,303.99 109.46,301.28 112.46,298.83 115.46,296.68 118.46,294.81 121.46,293.17 124.46,291.67 127.46,290.29 130.46,289.02 133.46,287.86 136.46,286.8 139.46,285.83 142.46,284.94 145.46,284.11 148.46,283.33 151.46,282.6 154.46,281.91 157.46,281.25 160.46,280.62 163.46,280.02 166.46,279.45 169.46,278.9 172.46,278.37 175.46,277.85" fill="none" stroke="#9a6af0" stroke-width="0.95" stroke-linejoin="round" stroke-linecap="round" />
<polyline points="38.42,388.49 40.34,381.01 42.26,381.72 44.18,386.43 46.1,391.08 48.02,386.73 49.94,393.58 51.86,380.4 53.78,373.92 55.7,367.96 58.7,359.43 61.7,351.56 64.7,344.52 67.7,338.24 70.7,332.75 73.7,328.15 76.7,324.28 79.7,320.74 82.7,317.17 85.7,313.51 88.7,309.91 91.7,306.54 94.7,303.52 97.7,300.91 100.7,298.48 103.7,296.19 106.7,294.05 109.7,292.07 112.7,290.25 115.7,288.58 118.7,287.09 121.7,285.7 124.7,284.39 127.7,283.15 130.7,282 133.7,280.93 136.7,279.96 139.7,279.09 142.7,278.32 145.7,277.58 148.7,276.87 151.7,276.17 154.7,275.51 157.7,274.89 160.7,274.31 163.7,273.79 166.7,273.32 169.7,272.93 172.7,272.61 175.7,272.38" fill="none" stroke="#6c6cf0" stroke-width="0.95" stroke-linejoin="round" stroke-linecap="round" />
<polyline points="38.42,394.54 40.34,400.66 42.26,395.65 44.18,388.31 46.1,394.8 48.02,395.37 49.94,388.64 51.86,397.04 53.78,392.71 55.7,399.75 57.62,401.28 59.54,398.34 61.46,388.8 63.38,382.77 65.3,377.1 68.3,369.06 71.3,362.25 74.3,356.91 77.3,352.81 80.3,348.96 83.3,344.46 86.3,339.41 89.3,334.22 92.3,329.26 95.3,324.98 98.3,321.45 101.3,318.07 104.3,314.86 107.3,311.85 110.3,309.07 113.3,306.57 116.3,304.38 119.3,302.55 122.3,300.95 125.3,299.5 128.3,298.18 131.3,296.97 134.3,295.86 137.3,294.82 140.3,293.83 143.3,292.89 146.3,292.03 149.3,291.25 152.3,290.52 155.3,289.82 158.3,289.15 161.3,288.49 164.3,287.81 167.3,287.11 170.3,286.36 173.3,285.55 176.3,284.66" fill="none" stroke="#f7c39a" stroke-width="0.95" stroke-linejoin="round" stroke-linecap="round" />
<polyline points="38.42,377.16 40.34,380.34 42.26,384.84 44.18,381.4 46.1,381.74 48.02,385.39 49.94,378.6 51.86,380.06 53.78,376.1 55.7,370.26 57.62,364.84 59.54,359.69 62.54,352.24 65.54,345.62 68.54,339.78 71.54,334.8 74.54,330.78 77.54,327.48 80.54,324.39 83.54,321.11 86.54,317.67 89.54,314.23 92.54,310.98 95.54,308.13 98.54,305.67 101.54,303.29 104.54,301.01 107.54,298.85 110.54,296.83 113.54,294.97 116.54,293.29 119.54,291.82 122.54,290.46 125.54,289.18 128.54,287.98 131.54,286.87 134.54,285.84 137.54,284.89 140.54,284.03 143.54,283.23 146.54,282.47 149.54,281.75 152.54,281.06 155.54,280.4 158.54,279.78 161.54,279.18 164.54,278.62 167.54,278.09 170.54,277.58 173.54,277.11 176.54,276.72" fill="none" stroke="#e47cea" stroke-width="0.95" stroke-linejoin="round" stroke-linecap="round" />
<polyline points="38.42,395.35 40.34,402.47 42.26,393.73 44.18,394.61 46.1,387.91 48.02,381.19 51.02,370.82 54.02,361.18 57.02,352.76 60.02,345.11 63.02,338.22 66.02,332.15 69.02,326.75 72.02,322.06 75.02,318.05 78.02,314.48 81.02,311.11 84.02,307.8 87.02,304.59 90.02,301.55 93.02,298.79 96.02,296.33 99.02,294.1 102.02,292.01 105.02,290.05 108.02,288.24 111.02,286.55 114.02,284.99 117.02,283.55 120.02,282.21 123.02,280.92 126.02,279.68 129.02,278.5 132.02,277.4 135.02,276.4 138.02,275.5 141.02,274.72 144.02,274.02 147.02,273.32 150.02,272.63 153.02,271.96 156.02,271.33 159.02,270.74 162.02,270.22 165.02,269.77 168.02,269.41 171.02,269.16 174.02,269.02" fill="none" stroke="#f8e27c" stroke-width="0.95" stroke-linejoin="round" stroke-linecap="round" />
<polyline points="38.42,381.31 40.34,390.38 42.26,385.7 44.18,389.96 46.1,405.72 48.02,381.95 49.94,377.83 51.86,384.49 53.78,384.54 55.7,389.05 57.62,390.25 59.54,383.83 61.46,383.59 63.38,389.12 65.3,381.45 67.22,375.39 69.14,369.81 71.06,364.77 74.06,358.13 77.06,352.79 80.06,347.73 83.06,342.1 86.06,336.03 89.06,329.95 92.06,324.27 95.06,319.33 98.06,315.24 101.06,311.45 104.06,307.96 107.06,304.76 110.06,301.88 113.06,299.31 116.06,297.06 119.06,295.14 122.06,293.45 125.06,291.9 128.06,290.49 131.06,289.2 134.06,288.02 137.06,286.94 140.06,285.96 143.06,285.07 146.06,284.23 149.06,283.45 152.06,282.71 155.06,282.02 158.06,281.36 161.06,280.73 164.06,280.13 167.06,279.55 170.06,279 173.06,278.46 176.06,277.94" fill="none" stroke="#f6b7a0" stroke-width="0.95" stroke-linejoin="round" stroke-linecap="round" />
<polyline points="38.42,386.5 40.34,380.74 42.26,382.69 44.18,379.98 46.1,414.14 48.02,375.24 49.94,380.86 51.86,381.56 53.78,385.02 55.7,387.17 57.62,375.85 59.54,375 61.46,374.76 63.38,369.16 65.3,363.92 68.3,356.47 71.3,350.07 74.3,344.92 77.3,340.77 80.3,336.86 83.3,332.54 86.3,327.9 89.3,323.23 92.3,318.84 95.3,315.02 98.3,311.8 101.3,308.76 104.3,305.9 107.3,303.23 110.3,300.78 113.3,298.56 116.3,296.6 119.3,294.9 122.3,293.38 125.3,291.98 128.3,290.69 131.3,289.5 134.3,288.4 137.3,287.39 140.3,286.47 143.3,285.61 146.3,284.81 149.3,284.05 152.3,283.34 155.3,282.66 158.3,282.01 161.3,281.4 164.3,280.8 167.3,280.22 170.3,279.66 173.3,279.1 176.3,278.55" fill="none" stroke="#f7c39a" stroke-width="0.95" stroke-linejoin="round" stroke-linecap="round" />
<polyline points="38.42,396.9 40.34,390.74 43.34,381.24 46.34,371.92 49.34,362.43 52.34,353.21 55.34,345.01 58.34,337.91 61.34,331.55 64.34,326.05 67.34,321.24 70.34,317.02 73.34,313.4 76.34,310.23 79.34,307.36 82.34,304.69 85.34,302.16 88.34,299.74 91.34,297.5 94.34,295.44 97.34,293.57 100.34,291.79 103.34,290.09 106.34,288.48 109.34,286.95 112.34,285.5 115.34,284.14 118.34,282.85 121.34,281.63 124.34,280.44 127.34,279.28 130.34,278.19 133.34,277.17 136.34,276.24 139.34,275.42 142.34,274.71 145.34,274.03 148.34,273.34 151.34,272.67 154.34,272.02 157.34,271.42 160.34,270.86 163.34,270.37 166.34,269.96 169.34,269.64 172.34,269.43 175.34,269.33" fill="none" stroke="#ef8ee0" stroke-width="0.95" stroke-linejoin="round" stroke-linecap="round" />
<polyline points="38.42,395.93 40.34,401.29 42.26,394.46 44.18,396.08 46.1,401.29 48.02,406.11 49.94,425.04 51.86,394.92 53.78,388.24 55.7,382.09 58.7,373.27 61.7,365.11 64.7,357.75 67.7,351.24 70.7,345.67 73.7,341.22 76.7,337.8 79.7,334.8 82.7,331.52 85.7,327.84 88.7,323.99 91.7,320.25 94.7,316.89 97.7,314.11 100.7,311.46 103.7,308.88 106.7,306.42 109.7,304.1 112.7,301.96 115.7,300.05 118.7,298.39 121.7,296.94 124.7,295.6 127.7,294.35 130.7,293.21 133.7,292.14 136.7,291.15 139.7,290.23 142.7,289.35 145.7,288.53 148.7,287.77 151.7,287.05 154.7,286.38 157.7,285.73 160.7,285.09 163.7,284.46 166.7,283.83 169.7,283.18 172.7,282.5 175.7,281.79" fill="none" stroke="#f39bd0" stroke-width="0.95" stroke-linejoin="round" stroke-linecap="round" />
<polyline points="38.42,403.63 40.34,403.72 42.26,405.54 44.18,398.82 46.1,403.12 48.02,433.2 49.94,402.58 51.86,407.44 53.78,410.4 55.7,411.8 57.62,400.18 59.54,405.91 61.46,399.61 63.38,392.72 65.3,386.19 68.3,376.87 71.3,368.86 74.3,362.45 77.3,357.37 80.3,352.5 83.3,346.92 86.3,340.82 89.3,334.68 92.3,328.91 95.3,323.95 98.3,319.84 101.3,316 104.3,312.42 107.3,309.14 110.3,306.16 113.3,303.5 116.3,301.2 119.3,299.25 122.3,297.55 125.3,296 128.3,294.6 131.3,293.33 134.3,292.16 137.3,291.08 140.3,290.08 143.3,289.15 146.3,288.29 149.3,287.5 152.3,286.76 155.3,286.06 158.3,285.39 161.3,284.74 164.3,284.1 167.3,283.46 170.3,282.8 173.3,282.12 176.3,281.41" fill="none" stroke="#fbe08a" stroke-width="0.95" stroke-linejoin="round" stroke-linecap="round" />
<polyline points="38.42,408.01 40.34,398.18 42.26,395.72 44.18,402.32 46.1,401.97 48.02,408.27 49.94,403.05 51.86,400.5 53.78,404.99 55.7,401.04 57.62,398.79 59.54,399.4 61.46,392.55 63.38,386 65.3,379.81 68.3,370.98 71.3,363.39 74.3,357.29 77.3,352.41 80.3,347.77 83.3,342.49 86.3,336.77 89.3,331.02 92.3,325.62 95.3,320.97 98.3,317.1 101.3,313.47 104.3,310.09 107.3,306.98 110.3,304.15 113.3,301.63 116.3,299.42 119.3,297.55 122.3,295.89 125.3,294.39 128.3,293.01 131.3,291.76 134.3,290.61 137.3,289.55 140.3,288.58 143.3,287.67 146.3,286.83 149.3,286.05 152.3,285.32 155.3,284.62 158.3,283.96 161.3,283.32 164.3,282.7 167.3,282.08 170.3,281.46 173.3,280.83 176.3,280.19" fill="none" stroke="#6c6cf0" stroke-width="0.95" stroke-linejoin="round" stroke-linecap="round" />
<polyline points="38.42,378.39 40.34,376.34 42.26,388.54 44.18,375.66 46.1,376.22 48.02,382.38 49.94,385.75 51.86,375.76 53.78,382.52 55.7,377.5 57.62,387.6 59.54,382.7 61.46,388.51 63.38,377.26 65.3,371.56 67.22,366.25 69.14,361.37 72.14,354.77 75.14,349.54 78.14,345.2 81.14,340.84 84.14,335.92 87.14,330.71 90.14,325.58 93.14,320.86 96.14,316.87 99.14,313.42 102.14,310.15 105.14,307.1 108.14,304.29 111.14,301.73 114.14,299.44 117.14,297.45 120.14,295.74 123.14,294.19 126.14,292.77 129.14,291.47 132.14,290.28 135.14,289.19 138.14,288.18 141.14,287.25 144.14,286.38 147.14,285.58 150.14,284.82 153.14,284.11 156.14,283.44 159.14,282.79 162.14,282.17 165.14,281.57 168.14,280.97 171.14,280.38 174.14,279.78" fill="none" stroke="#e47cea" stroke-width="0.95" stroke-linejoin="round" stroke-linecap="round" />
<polyline points="38.42,394.57 40.34,392.31 42.26,390.71 44.18,384.63 46.1,394.92 48.02,385.49 49.94,389.35 51.86,394.44 53.78,389.69 55.7,383.34 57.62,377.41 59.54,371.74 62.54,363.44 65.54,355.97 68.54,349.36 71.54,343.73 74.54,339.23 77.54,335.6 80.54,332.17 83.54,328.39 86.54,324.34 89.54,320.26 92.54,316.43 95.54,313.09 98.54,310.25 101.54,307.52 104.54,304.92 107.54,302.48 110.54,300.21 113.54,298.15 116.54,296.31 119.54,294.72 122.54,293.28 125.54,291.94 128.54,290.71 131.54,289.56 134.54,288.5 137.54,287.53 140.54,286.62 143.54,285.79 146.54,285 149.54,284.26 152.54,283.55 155.54,282.89 158.54,282.25 161.54,281.63 164.54,281.04 167.54,280.46 170.54,279.89 173.54,279.32 176.54,278.8" fill="none" stroke="#f7c39a" stroke-width="0.95" stroke-linejoin="round" stroke-linecap="round" />
<polyline points="38.42,404.67 40.34,393.29 42.26,394.75 44.18,406.53 46.1,401.28 48.02,405.93 49.94,406.36 51.86,397.44 53.78,390.48 55.7,384.03 58.7,374.74 61.7,366.08 64.7,358.21 67.7,351.18 70.7,345.1 73.7,340.12 76.7,336.14 79.7,332.54 82.7,328.71 85.7,324.57 88.7,320.35 91.7,316.34 94.7,312.77 97.7,309.77 100.7,306.96 103.7,304.3 106.7,301.8 109.7,299.47 112.7,297.35 115.7,295.45 118.7,293.8 121.7,292.31 124.7,290.94 127.7,289.66 130.7,288.48 133.7,287.39 136.7,286.39 139.7,285.47 142.7,284.62 145.7,283.83 148.7,283.08 151.7,282.36 154.7,281.69 157.7,281.04 160.7,280.43 163.7,279.84 166.7,279.28 169.7,278.74 172.7,278.22 175.7,277.71" fill="none" stroke="#ef8ee0" stroke-width="0.95" stroke-linejoin="round" stroke-linecap="round" />
<polyline points="38.42,388.95 40.34,390.9 42.26,383.77 44.18,394.12 46.1,386.86 48.02,392.78 49.94,392.13 51.86,383.16 53.78,376.7 55.7,370.77 58.7,362.29 61.7,354.47 64.7,347.48 67.7,341.27 70.7,335.89 73.7,331.44 76.7,327.82 79.7,324.55 82.7,321.17 85.7,317.62 88.7,314.05 91.7,310.66 94.7,307.61 97.7,305.02 100.7,302.57 103.7,300.24 106.7,298.03 109.7,295.97 112.7,294.07 115.7,292.35 118.7,290.81 121.7,289.42 124.7,288.11 127.7,286.88 130.7,285.73 133.7,284.67 136.7,283.7 139.7,282.82 142.7,282.02 145.7,281.25 148.7,280.52 151.7,279.82 154.7,279.16 157.7,278.53 160.7,277.93 163.7,277.37 166.7,276.85 169.7,276.37 172.7,275.94 175.7,275.54" fill="none" stroke="#f8e27c" stroke-width="0.95" stroke-linejoin="round" stroke-linecap="round" />
<polyline points="38.42,386.49 40.34,381.13 42.26,389.07 44.18,381.79 46.1,393.2 48.02,387.41 49.94,390.09 51.86,393.3 53.78,384.86 55.7,390.02 57.62,384.4 59.54,392.33 61.46,383.94 63.38,392.7 65.3,386.19 67.22,386.21 69.14,380.62 71.06,375.64 72.98,371.34 74.9,367.81 77.9,363.21 80.9,358.58 83.9,353.01 86.9,346.89 89.9,340.69 92.9,334.92 95.9,330.07 98.9,325.99 101.9,322.11 104.9,318.46 107.9,315.08 110.9,312 113.9,309.28 116.9,306.94 119.9,305.01 122.9,303.31 125.9,301.8 128.9,300.43 131.9,299.19 134.9,298.04 137.9,296.97 140.9,295.94 143.9,294.97 146.9,294.09 149.9,293.29 152.9,292.56 155.9,291.85 158.9,291.17 161.9,290.48 164.9,289.77 167.9,289.01 170.9,288.19 173.9,287.29" fill="none" stroke="#f8e27c" stroke-width="0.95" stroke-linejoin="round" stroke-linecap="round" />
<polyline points="38.42,404.52 40.34,403.16 42.26,396.03 44.18,403.7 46.1,403.68 48.02,403.33 49.94,400.79 51.86,401.13 53.78,400.81 55.7,397.98 57.62,430.91 59.54,401.08 61.46,395 63.38,394.88 65.3,388.2 67.22,381.96 70.22,373.26 73.22,366.07 76.22,360.48 79.22,355.54 82.22,350.1 85.22,343.97 88.22,337.62 91.22,331.51 94.22,326.08 97.22,321.64 100.22,317.63 103.22,313.88 106.22,310.42 109.22,307.28 112.22,304.46 115.22,302 118.22,299.9 121.22,298.11 124.22,296.49 127.22,295.03 130.22,293.7 133.22,292.48 136.22,291.37 139.22,290.34 142.22,289.38 145.22,288.49 148.22,287.67 151.22,286.91 154.22,286.2 157.22,285.52 160.22,284.86 163.22,284.22 166.22,283.58 169.22,282.93 172.22,282.26 175.22,281.56" fill="none" stroke="#f8e27c" stroke-width="0.95" stroke-linejoin="round" stroke-linecap="round" />
<polyline points="38.42,388.91 40.34,383.15 43.34,374.25 46.34,365.48 49.34,356.48 52.34,347.7 55.34,339.96 58.34,333.33 61.34,327.46 64.34,322.46 67.34,318.14 70.34,314.38 73.34,311.17 76.34,308.37 79.34,305.87 82.34,303.6 85.34,301.47 88.34,299.42 91.34,297.5 94.34,295.71 97.34,294.06 100.34,292.48 103.34,290.93 106.34,289.43 109.34,287.98 112.34,286.59 115.34,285.28 118.34,284.04 121.34,282.86 124.34,281.7 127.34,280.58 130.34,279.51 133.34,278.51 136.34,277.6 139.34,276.79 142.34,276.08 145.34,275.39 148.34,274.71 151.34,274.04 154.34,273.4 157.34,272.79 160.34,272.23 163.34,271.73 166.34,271.3 169.34,270.95 172.34,270.7 175.34,270.55" fill="none" stroke="#e47cea" stroke-width="0.95" stroke-linejoin="round" stroke-linecap="round" />
<polyline points="38.42,389.31 40.34,383.58 43.34,374.75 46.34,366.05 49.34,357.13 52.34,348.46 55.34,340.83 58.34,334.32 61.34,328.58 64.34,323.71 67.34,319.53 70.34,315.92 73.34,312.89 76.34,310.32 79.34,308.07 82.34,306.01 85.34,304.04 88.34,302.09 91.34,300.21 94.34,298.46 97.34,296.86 100.34,295.3 103.34,293.76 106.34,292.24 109.34,290.76 112.34,289.33 115.34,287.98 118.34,286.72 121.34,285.54 124.34,284.39 127.34,283.28 130.34,282.23 133.34,281.24 136.34,280.33 139.34,279.51 142.34,278.78 145.34,278.08 148.34,277.38 151.34,276.71 154.34,276.07 157.34,275.45 160.34,274.88 163.34,274.36 166.34,273.89 169.34,273.48 172.34,273.14 175.34,272.88" fill="none" stroke="#f39bd0" stroke-width="0.95" stroke-linejoin="round" stroke-linecap="round" />
<polyline points="38.42,397.83 40.34,404 42.26,399.66 44.18,401.49 46.1,394.25 48.02,387.27 49.94,380.36 52.94,370.05 55.94,360.87 58.94,352.65 61.94,345.12 64.94,338.42 67.94,332.44 70.94,327.2 73.94,322.75 76.94,318.9 79.94,315.33 82.94,311.79 85.94,308.28 88.94,304.91 91.94,301.79 94.94,299.01 97.94,296.56 100.94,294.27 103.94,292.14 106.94,290.16 109.94,288.33 112.94,286.64 115.94,285.09 118.94,283.66 121.94,282.32 124.94,281.04 127.94,279.82 130.94,278.68 133.94,277.62 136.94,276.67 139.94,275.83 142.94,275.11 145.94,274.4 148.94,273.69 151.94,273.01 154.94,272.35 157.94,271.75 160.94,271.19 163.94,270.71 166.94,270.3 169.94,269.99 172.94,269.78 175.94,269.69" fill="none" stroke="#f9d08c" stroke-width="0.95" stroke-linejoin="round" stroke-linecap="round" />
<polyline points="38.42,390.45 40.34,387.66 42.26,388.94 44.18,388.54 46.1,388.83 48.02,387.04 49.94,393.29 51.86,389.28 53.78,392.21 55.7,385.62 57.62,379.45 59.54,373.54 62.54,364.84 65.54,356.97 68.54,349.96 71.54,343.95 74.54,339.06 77.54,335.03 80.54,331.19 83.54,327.01 86.54,322.63 89.54,318.29 92.54,314.24 95.54,310.73 98.54,307.72 101.54,304.88 104.54,302.21 107.54,299.73 110.54,297.45 113.54,295.38 116.54,293.54 119.54,291.93 122.54,290.46 125.54,289.1 128.54,287.83 131.54,286.66 134.54,285.59 137.54,284.6 140.54,283.71 143.54,282.89 146.54,282.11 149.54,281.37 152.54,280.67 155.54,280 158.54,279.37 161.54,278.77 164.54,278.21 167.54,277.68 170.54,277.18 173.54,276.72 176.54,276.35" fill="none" stroke="#fbe08a" stroke-width="0.95" stroke-linejoin="round" stroke-linecap="round" />
<polyline points="38.42,409.22 40.34,411.68 42.26,410.42 44.18,413.77 46.1,412.97 48.02,403.45 49.94,413.73 51.86,406.22 53.78,414.1 55.7,411.97 57.62,406.78 59.54,400.04 61.46,393.54 63.38,387.35 66.38,378.41 69.38,370.58 72.38,364.11 75.38,359.25 78.38,355.36 81.38,351.31 84.38,346.45 87.38,341.12 90.38,335.77 93.38,330.81 96.38,326.72 99.38,323.14 102.38,319.7 105.38,316.44 108.38,313.39 111.38,310.61 114.38,308.12 117.38,306 120.38,304.23 123.38,302.66 126.38,301.25 129.38,299.96 132.38,298.78 135.38,297.69 138.38,296.66 141.38,295.66 144.38,294.73 147.38,293.88 150.38,293.11 153.38,292.39 156.38,291.7 159.38,291.03 162.38,290.34 165.38,289.63 168.38,288.87 171.38,288.04 174.38,287.12" fill="none" stroke="#b467f2" stroke-width="0.95" stroke-linejoin="round" stroke-linecap="round" />
<polyline points="38.42,388.64 40.34,388.82 42.26,386.82 44.18,379.54 46.1,387.56 48.02,378.14 49.94,378.84 51.86,372.31 53.78,366.16 56.78,357.59 59.78,349.83 62.78,342.81 65.78,336.63 68.78,331.15 71.78,326.43 74.78,322.5 77.78,319.1 80.78,315.91 83.78,312.69 86.78,309.45 89.78,306.33 92.78,303.44 95.78,300.89 98.78,298.61 101.78,296.44 104.78,294.38 107.78,292.46 110.78,290.66 113.78,289 116.78,287.47 119.78,286.09 122.78,284.78 125.78,283.53 128.78,282.36 131.78,281.26 134.78,280.24 137.78,279.33 140.78,278.51 143.78,277.78 146.78,277.06 149.78,276.35 152.78,275.68 155.78,275.03 158.78,274.43 161.78,273.88 164.78,273.38 167.78,272.95 170.78,272.59 173.78,272.31 176.78,272.39" fill="none" stroke="#fbe08a" stroke-width="0.95" stroke-linejoin="round" stroke-linecap="round" />
<polyline points="38.42,390.5 40.34,379.68 42.26,383.62 44.18,387.27 46.1,381.75 48.02,391.06 49.94,385.87 51.86,380.95 53.78,388.95 55.7,386.58 57.62,378.7 59.54,382.05 61.46,387.38 63.38,389.05 65.3,391.2 67.22,379.03 69.14,390.03 71.06,379.9 72.98,375.09 74.9,371.07 76.82,367.59 79.82,362.36 82.82,356.34 85.82,349.59 88.82,342.67 91.82,336.1 94.82,330.36 97.82,325.71 100.82,321.41 103.82,317.41 106.82,313.73 109.82,310.4 112.82,307.45 115.82,304.88 118.82,302.74 121.82,300.91 124.82,299.26 127.82,297.78 130.82,296.45 133.82,295.23 136.82,294.1 139.82,293.05 142.82,292.06 145.82,291.16 148.82,290.33 151.82,289.57 154.82,288.85 157.82,288.16 160.82,287.49 163.82,286.82 166.82,286.13 169.82,285.41 172.82,284.64 175.82,283.81" fill="none" stroke="#ef8ee0" stroke-width="0.95" stroke-linejoin="round" stroke-linecap="round" />
<polyline points="38.42,384.99 40.34,386.4 42.26,387.38 44.18,385.55 46.1,386.85 48.02,390.92 49.94,396.48 51.86,394.26 53.78,390.5 55.7,384.17 57.62,378.27 59.54,372.63 62.54,364.38 65.54,356.96 68.54,350.39 71.54,344.83 74.54,340.43 77.54,336.92 80.54,333.61 83.54,329.92 86.54,325.92 89.54,321.87 92.54,318.04 95.54,314.71 98.54,311.88 101.54,309.15 104.54,306.55 107.54,304.08 110.54,301.79 113.54,299.7 116.54,297.84 119.54,296.24 122.54,294.8 125.54,293.47 128.54,292.23 131.54,291.09 134.54,290.04 137.54,289.06 140.54,288.15 143.54,287.3 146.54,286.5 149.54,285.76 152.54,285.05 155.54,284.38 158.54,283.74 161.54,283.12 164.54,282.51 167.54,281.9 170.54,281.29 173.54,280.67 176.54,280.07" fill="none" stroke="#d983ef" stroke-width="0.95" stroke-linejoin="round" stroke-linecap="round" />
<polyline points="38.42,401.06 40.34,404.72 42.26,399.59 44.18,394.29 46.1,406.06 48.02,396.02 49.94,398.12 51.86,406.09 53.78,394.73 55.7,397.37 57.62,400.83 59.54,401.95 61.46,395.8 63.38,389.34 65.3,383.23 67.22,377.55 70.22,369.68 73.22,363.27 76.22,358.41 79.22,354.21 82.22,349.53 85.22,344.14 88.22,338.46 91.22,332.91 94.22,327.94 97.22,323.91 100.22,320.22 103.22,316.72 106.22,313.44 109.22,310.42 112.22,307.69 115.22,305.29 118.22,303.25 121.22,301.52 124.22,299.97 127.22,298.56 130.22,297.28 133.22,296.11 136.22,295.03 139.22,294.01 142.22,293.03 145.22,292.13 148.22,291.31 151.22,290.56 154.22,289.85 157.22,289.17 160.22,288.5 163.22,287.83 166.22,287.14 169.22,286.41 172.22,285.63 175.22,284.78" fill="none" stroke="#f7c39a" stroke-width="0.95" stroke-linejoin="round" stroke-linecap="round" />
<polyline points="38.42,380.05 40.34,376.97 42.26,380.16 44.18,378.67 46.1,388.55 48.02,380.82 49.94,387.99 51.86,380.25 53.78,373.73 55.7,367.74 57.62,362.16 60.62,353.98 63.62,346.56 66.62,339.96 69.62,334.1 72.62,329.09 75.62,324.91 78.62,321.19 81.62,317.55 84.62,313.83 87.62,310.14 90.62,306.63 93.62,303.46 96.62,300.7 99.62,298.19 102.62,295.84 105.62,293.65 108.62,291.62 111.62,289.75 114.62,288.05 117.62,286.5 120.62,285.09 123.62,283.74 126.62,282.47 129.62,281.28 132.62,280.18 135.62,279.17 138.62,278.26 141.62,277.47 144.62,276.74 147.62,276.01 150.62,275.31 153.62,274.64 156.62,274 159.62,273.41 162.62,272.88 165.62,272.41 168.62,272.01 171.62,271.69 174.62,271.47" fill="none" stroke="#f6b7a0" stroke-width="0.95" stroke-linejoin="round" stroke-linecap="round" />
<polyline points="38.42,389.13 40.34,385.53 42.26,378.13 44.18,384.02 46.1,380.35 48.02,385.83 49.94,410.45 51.86,379.72 53.78,373.19 55.7,367.19 58.7,358.57 61.7,350.62 64.7,343.48 67.7,337.11 70.7,331.52 73.7,326.78 76.7,322.74 79.7,319.03 82.7,315.3 85.7,311.54 88.7,307.88 91.7,304.47 94.7,301.44 97.7,298.8 100.7,296.35 103.7,294.06 106.7,291.94 109.7,289.99 112.7,288.2 115.7,286.56 118.7,285.07 121.7,283.69 124.7,282.37 127.7,281.13 130.7,279.96 133.7,278.89 136.7,277.92 139.7,277.06 142.7,276.31 145.7,275.58 148.7,274.87 151.7,274.17 154.7,273.51 157.7,272.89 160.7,272.33 163.7,271.82 166.7,271.39 169.7,271.04 172.7,270.79 175.7,270.64" fill="none" stroke="#f08cd8" stroke-width="0.95" stroke-linejoin="round" stroke-linecap="round" />
<polyline points="38.42,421.84 40.34,399.64 42.26,403.04 44.18,397.24 46.1,392.69 48.02,402.29 49.94,391.57 51.86,399.49 53.78,402.53 55.7,390.36 57.62,394.27 59.54,401.73 61.46,395.54 63.38,403.37 65.3,396.14 67.22,389.67 69.14,383.74 71.06,378.43 74.06,371.6 77.06,366.34 80.06,361.41 83.06,355.64 86.06,349.17 89.06,342.53 92.06,336.24 95.06,330.79 98.06,326.35 101.06,322.2 104.06,318.33 107.06,314.75 110.06,311.49 113.06,308.6 116.06,306.1 119.06,304.02 122.06,302.23 125.06,300.62 128.06,299.18 131.06,297.88 134.06,296.68 137.06,295.57 140.06,294.53 143.06,293.54 146.06,292.64 149.06,291.82 152.06,291.06 155.06,290.35 158.06,289.66 161.06,288.98 164.06,288.3 167.06,287.58 170.06,286.82 173.06,286 176.06,285.09" fill="none" stroke="#7070f0" stroke-width="0.95" stroke-linejoin="round" stroke-linecap="round" />
<polyline points="38.42,407.54 40.34,410.96 42.26,410.79 44.18,404.92 46.1,404.67 48.02,399.65 49.94,400.97 51.86,410.98 53.78,408.59 55.7,409.28 57.62,403.82 59.54,396.85 61.46,390.11 63.38,383.66 66.38,374.33 69.38,366.06 72.38,359.09 75.38,353.6 78.38,348.98 81.38,344.22 84.38,338.84 87.38,333.18 90.38,327.63 93.38,322.58 96.38,318.36 99.38,314.66 102.38,311.19 105.38,307.97 108.38,305.02 111.38,302.35 114.38,299.98 117.38,297.92 120.38,296.17 123.38,294.59 126.38,293.14 129.38,291.82 132.38,290.61 135.38,289.5 138.38,288.48 141.38,287.54 144.38,286.66 147.38,285.85 150.38,285.09 153.38,284.38 156.38,283.7 159.38,283.05 162.38,282.43 165.38,281.82 168.38,281.21 171.38,280.61 174.38,280" fill="none" stroke="#f08cd8" stroke-width="0.95" stroke-linejoin="round" stroke-linecap="round" />
<polyline points="38.42,386.36 40.34,372.61 42.26,377.34 44.18,377.15 46.1,381.32 48.02,400.73 49.94,380.08 51.86,381.25 53.78,384.32 55.7,383.02 57.62,382.04 59.54,386.27 61.46,384.73 63.38,378.18 65.3,380.89 67.22,376.89 69.14,376.3 71.06,371.59 72.98,367.54 74.9,364.22 76.82,361.39 79.82,357.22 82.82,352.35 85.82,346.75 88.82,340.91 91.82,335.27 94.82,330.32 97.82,326.32 100.82,322.57 103.82,319 106.82,315.66 109.82,312.59 112.82,309.83 115.82,307.42 118.82,305.41 121.82,303.7 124.82,302.16 127.82,300.77 130.82,299.51 133.82,298.36 136.82,297.28 139.82,296.25 142.82,295.26 145.82,294.36 148.82,293.54 151.82,292.79 154.82,292.08 157.82,291.4 160.82,290.72 163.82,290.02 166.82,289.28 169.82,288.49 172.82,287.62 175.82,286.65" fill="none" stroke="#6c6cf0" stroke-width="0.95" stroke-linejoin="round" stroke-linecap="round" />
<polyline points="38.42,397.67 40.34,403.73 42.26,396.95 44.18,402.42 46.1,396.96 48.02,409.2 49.94,397.02 51.86,401.38 53.78,405.59 55.7,399.09 57.62,392.68 59.54,386.51 62.54,377.4 65.54,369.11 68.54,361.78 71.54,355.59 74.54,350.78 77.54,347.05 80.54,343.49 83.54,339.35 86.54,334.77 89.54,330.06 92.54,325.6 95.54,321.75 98.54,318.54 101.54,315.44 104.54,312.47 107.54,309.68 110.54,307.09 113.54,304.76 116.54,302.71 119.54,300.98 122.54,299.45 125.54,298.06 128.54,296.78 131.54,295.61 134.54,294.53 137.54,293.52 140.54,292.56 143.54,291.65 146.54,290.82 149.54,290.05 152.54,289.33 155.54,288.64 158.54,287.98 161.54,287.33 164.54,286.67 167.54,285.98 170.54,285.26 173.54,284.49 176.54,283.65" fill="none" stroke="#f9d08c" stroke-width="0.95" stroke-linejoin="round" stroke-linecap="round" />
<polyline points="38.42,394.07 40.34,389.77 42.26,396.34 44.18,394.08 46.1,398.79 48.02,385.86 49.94,387.3 51.86,388.18 53.78,389.03 55.7,386.77 57.62,387.47 59.54,381.43 61.46,375.65 64.46,367.28 67.46,359.78 70.46,353.31 73.46,348.05 76.46,344.01 79.46,340.45 82.46,336.56 85.46,332.21 88.46,327.67 91.46,323.26 94.46,319.32 97.46,316.07 100.46,313.04 103.46,310.15 106.46,307.41 109.46,304.86 112.46,302.54 115.46,300.47 118.46,298.68 121.46,297.13 124.46,295.71 127.46,294.41 130.46,293.21 133.46,292.1 136.46,291.07 139.46,290.11 142.46,289.21 145.46,288.37 148.46,287.6 151.46,286.87 154.46,286.18 157.46,285.52 160.46,284.88 163.46,284.25 166.46,283.62 169.46,282.97 172.46,282.3 175.46,281.6" fill="none" stroke="#ef8ee0" stroke-width="0.95" stroke-linejoin="round" stroke-linecap="round" />
<polyline points="38.42,413.4 40.34,409.1 42.26,412.51 44.18,401.67 46.1,408.28 48.02,433.2 49.94,401.7 51.86,394.55 53.78,387.81 56.78,378.29 59.78,369.59 62.78,361.59 65.78,354.42 68.78,348.09 71.78,342.76 74.78,338.56 77.78,335.18 80.78,331.94 83.78,328.33 86.78,324.46 89.78,320.55 92.78,316.87 95.78,313.69 98.78,310.95 101.78,308.31 104.78,305.77 107.78,303.37 110.78,301.14 113.78,299.11 116.78,297.3 119.78,295.74 122.78,294.33 125.78,293.01 128.78,291.8 131.78,290.67 134.78,289.63 137.78,288.66 140.78,287.76 143.78,286.92 146.78,286.14 149.78,285.4 152.78,284.7 155.78,284.03 158.78,283.4 161.78,282.78 164.78,282.17 167.78,281.57 170.78,280.97 173.78,280.36 176.78,279.83" fill="none" stroke="#ea84e6" stroke-width="0.95" stroke-linejoin="round" stroke-linecap="round" />
<polyline points="71.9,394.9 72.5,359.09 76.1,352.82 79.7,347.03 83.3,341.67 86.9,336.73 90.5,332.15 94.1,327.93 97.7,324.02 101.3,320.42 104.9,317.08 108.5,314 112.1,311.16 115.7,308.52 119.3,306.09 122.9,303.85 126.5,301.77 130.1,299.85 133.7,298.08 137.3,296.44 140.9,294.93 144.5,293.53 148.1,292.24 151.7,291.04 155.3,289.94 158.9,288.92 162.5,287.98 166.1,287.1 169.7,286.3 173.3,285.56 176.9,284.87" fill="none" stroke="#6c6cf2" stroke-width="0.95" stroke-linejoin="round" stroke-linecap="round" />
<rect x="93" y="333" width="80.5" height="74.3" fill="#7a3ee6" />
<rect x="93.9" y="335.5" width="6.2" height="6" fill="#fffbe2" />
<rect x="93.9" y="343.7" width="6.2" height="6" fill="#fffbe2" />
<rect x="93.9" y="351.9" width="6.2" height="6" fill="#fffbe2" />
<rect x="93.9" y="360.1" width="6.2" height="6" fill="#fffbe2" />
<rect x="93.9" y="368.3" width="6.2" height="6" fill="#fffbe2" />
<rect x="93.9" y="376.5" width="6.2" height="6" fill="#fffbe2" />
<rect x="93.9" y="384.7" width="6.2" height="6" fill="#fffbe2" />
<rect x="93.9" y="392.9" width="6.2" height="6" fill="#fffbe2" />
<rect x="93.9" y="401.1" width="6.2" height="6" fill="#fffbe2" />
<rect x="101.95" y="335.5" width="6.2" height="6" fill="#fffbe2" />
<rect x="101.95" y="343.7" width="6.2" height="6" fill="#fffbe2" />
<rect x="101.95" y="351.9" width="6.2" height="6" fill="#fffbe2" />
<rect x="101.95" y="360.1" width="6.2" height="6" fill="#fffbe2" />
<rect x="101.95" y="368.3" width="6.2" height="6" fill="#fffbe2" />
<rect x="101.95" y="376.5" width="6.2" height="6" fill="#fffbe2" />
<rect x="101.95" y="384.7" width="6.2" height="6" fill="#fffbe2" />
<rect x="101.95" y="392.9" width="6.2" height="6" fill="#fffbe2" />
<rect x="101.95" y="401.1" width="6.2" height="6" fill="#fffbe2" />
<rect x="110" y="335.5" width="6.2" height="6" fill="#fffbe2" />
<rect x="110" y="343.7" width="6.2" height="6" fill="#fffbe2" />
<rect x="110" y="351.9" width="6.2" height="6" fill="#fffbe2" />
<rect x="110" y="360.1" width="6.2" height="6" fill="#fffbe2" />
<rect x="110" y="368.3" width="6.2" height="6" fill="#fffbe2" />
<rect x="110" y="376.5" width="6.2" height="6" fill="#fffbe2" />
<rect x="110" y="384.7" width="6.2" height="6" fill="#fffbe2" />
<rect x="110" y="392.9" width="6.2" height="6" fill="#fffbe2" />
<rect x="110" y="401.1" width="6.2" height="6" fill="#fffbe2" />
<rect x="118.05" y="335.5" width="6.2" height="6" fill="#fffbe2" />
<rect x="118.05" y="343.7" width="6.2" height="6" fill="#fffbe2" />
<rect x="118.05" y="351.9" width="6.2" height="6" fill="#fffbe2" />
<rect x="118.05" y="360.1" width="6.2" height="6" fill="#fffbe2" />
<rect x="118.05" y="368.3" width="6.2" height="6" fill="#fffbe2" />
<rect x="118.05" y="376.5" width="6.2" height="6" fill="#fffbe2" />
<rect x="118.05" y="384.7" width="6.2" height="6" fill="#fffbe2" />
<rect x="118.05" y="392.9" width="6.2" height="6" fill="#fffbe2" />
<rect x="118.05" y="401.1" width="6.2" height="6" fill="#fffbe2" />
<rect x="126.1" y="335.5" width="6.2" height="6" fill="#fffbe2" />
<rect x="126.1" y="343.7" width="6.2" height="6" fill="#fffbe2" />
<rect x="126.1" y="351.9" width="6.2" height="6" fill="#fffbe2" />
<rect x="126.1" y="360.1" width="6.2" height="6" fill="#fffbe2" />
<rect x="126.1" y="368.3" width="6.2" height="6" fill="#fffbe2" />
<rect x="126.1" y="376.5" width="6.2" height="6" fill="#fffbe2" />
<rect x="126.1" y="384.7" width="6.2" height="6" fill="#fffbe2" />
<rect x="126.1" y="392.9" width="6.2" height="6" fill="#fffbe2" />
<rect x="126.1" y="401.1" width="6.2" height="6" fill="#fffbe2" />
<rect x="134.15" y="335.5" width="6.2" height="6" fill="#fffbe2" />
<rect x="134.15" y="343.7" width="6.2" height="6" fill="#fffbe2" />
<rect x="134.15" y="351.9" width="6.2" height="6" fill="#fffbe2" />
<rect x="134.15" y="360.1" width="6.2" height="6" fill="#fffbe2" />
<rect x="134.15" y="368.3" width="6.2" height="6" fill="#fffbe2" />
<rect x="134.15" y="376.5" width="6.2" height="6" fill="#fffbe2" />
<rect x="134.15" y="384.7" width="6.2" height="6" fill="#fffbe2" />
<rect x="134.15" y="392.9" width="6.2" height="6" fill="#fffbe2" />
<rect x="134.15" y="401.1" width="6.2" height="6" fill="#fffbe2" />
<rect x="142.2" y="335.5" width="6.2" height="6" fill="#fffbe2" />
<rect x="142.2" y="343.7" width="6.2" height="6" fill="#fffbe2" />
<rect x="142.2" y="351.9" width="6.2" height="6" fill="#fffbe2" />
<rect x="142.2" y="360.1" width="6.2" height="6" fill="#fffbe2" />
<rect x="142.2" y="368.3" width="6.2" height="6" fill="#fffbe2" />
<rect x="142.2" y="376.5" width="6.2" height="6" fill="#fffbe2" />
<rect x="142.2" y="384.7" width="6.2" height="6" fill="#fffbe2" />
<rect x="142.2" y="392.9" width="6.2" height="6" fill="#fffbe2" />
<rect x="142.2" y="401.1" width="6.2" height="6" fill="#fffbe2" />
<rect x="150.25" y="335.5" width="6.2" height="6" fill="#fffbe2" />
<rect x="150.25" y="343.7" width="6.2" height="6" fill="#fffbe2" />
<rect x="150.25" y="351.9" width="6.2" height="6" fill="#fffbe2" />
<rect x="150.25" y="360.1" width="6.2" height="6" fill="#fffbe2" />
<rect x="150.25" y="368.3" width="6.2" height="6" fill="#fffbe2" />
<rect x="150.25" y="376.5" width="6.2" height="6" fill="#fffbe2" />
<rect x="150.25" y="384.7" width="6.2" height="6" fill="#fffbe2" />
<rect x="150.25" y="392.9" width="6.2" height="6" fill="#fffbe2" />
<rect x="150.25" y="401.1" width="6.2" height="6" fill="#fffbe2" />
<rect x="158.3" y="335.5" width="6.2" height="6" fill="#fffbe2" />
<rect x="158.3" y="343.7" width="6.2" height="6" fill="#fffbe2" />
<rect x="158.3" y="351.9" width="6.2" height="6" fill="#fffbe2" />
<rect x="158.3" y="360.1" width="6.2" height="6" fill="#fffbe2" />
<rect x="158.3" y="368.3" width="6.2" height="6" fill="#fffbe2" />
<rect x="158.3" y="376.5" width="6.2" height="6" fill="#fffbe2" />
<rect x="158.3" y="384.7" width="6.2" height="6" fill="#fffbe2" />
<rect x="158.3" y="392.9" width="6.2" height="6" fill="#fffbe2" />
<rect x="158.3" y="401.1" width="6.2" height="6" fill="#fffbe2" />
<rect x="166.35" y="335.5" width="6.2" height="6" fill="#fffbe2" />
<rect x="166.35" y="343.7" width="6.2" height="6" fill="#fffbe2" />
<rect x="166.35" y="351.9" width="6.2" height="6" fill="#fffbe2" />
<rect x="166.35" y="360.1" width="6.2" height="6" fill="#fffbe2" />
<rect x="166.35" y="368.3" width="6.2" height="6" fill="#fffbe2" />
<rect x="166.35" y="376.5" width="6.2" height="6" fill="#fffbe2" />
<rect x="166.35" y="384.7" width="6.2" height="6" fill="#fffbe2" />
<rect x="166.35" y="392.9" width="6.2" height="6" fill="#fffbe2" />
<rect x="166.35" y="401.1" width="6.2" height="6" fill="#fffbe2" />
<rect x="112.5" y="388.6" width="13.5" height="1.8" fill="none" stroke="#bbb" stroke-width="0.6" stroke-dasharray="1.5 1"/>
<line x1="112.5" y1="389.5" x2="93.4" y2="411.2" stroke="#444" stroke-width="0.7" />
<line x1="126" y1="389.5" x2="174.5" y2="411.2" stroke="#444" stroke-width="0.7" />
<line x1="163.8" y1="401.9" x2="171.6" y2="401.9" stroke="#000" stroke-width="1.3" />
<rect x="93.3" y="411.3" width="81.4" height="15.2" fill="#fff8e4" />
<rect x="93.3" y="413.6" width="81.4" height="11" fill="#8c37d9" />
<rect x="108" y="413.6" width="3.9" height="11" fill="#5548e2" />
<rect x="155" y="413.6" width="4" height="11" fill="#5548e2" />
<rect x="128" y="411.9" width="11.5" height="14.6" rx="2" fill="#8c37d9"/>
<text x="117.8" y="422.2" font-size="8.6" fill="#cfc2e6" stroke="#cfc2e6">MoS<tspan font-size="5.5" dy="1.8">2</tspan></text>
<path d="M133.6,413.2 Q134.3,417.4 138.6,418.1 Q134.3,418.8 133.6,423 Q132.9,418.8 128.6,418.1 Q132.9,417.4 133.6,413.2 Z" fill="#fff3e4"/>
<line x1="164" y1="422.1" x2="171.4" y2="422.1" stroke="#000" stroke-width="1.3" />
<line x1="93.3" y1="411.4" x2="174.7" y2="411.4" stroke="#333" stroke-width="0.8" stroke-dasharray="2.8 2.8"/>
<line x1="93.3" y1="426.4" x2="174.7" y2="426.4" stroke="#333" stroke-width="0.8" stroke-dasharray="2.8 2.8"/>
<line x1="93.5" y1="411.4" x2="93.5" y2="426.4" stroke="#333" stroke-width="0.7" stroke-dasharray="2.8 2.8"/>
<line x1="174.5" y1="411.4" x2="174.5" y2="426.4" stroke="#333" stroke-width="0.7" stroke-dasharray="2.8 2.8"/>
<text x="193.5" y="254.6" font-size="11" text-anchor="start" font-weight="bold" fill="#000"  stroke="#000">f</text>
<rect x="225.1" y="259.2" width="3.7" height="6.8" fill="#fcc591" />
<rect x="225.1" y="268.5" width="3.7" height="6.1" fill="#fcc591" />
<rect x="225.1" y="277.7" width="25" height="6.2" fill="#fcc591" />
<rect x="225.1" y="287" width="46.6" height="6.1" fill="#fcc591" />
<rect x="225.1" y="296.2" width="59.5" height="6.4" fill="#fcc591" />
<rect x="225.1" y="305.4" width="75.9" height="6.2" fill="#fcc591" />
<rect x="225.1" y="314.7" width="59.5" height="6.1" fill="#fcc591" />
<rect x="225.1" y="323.9" width="38" height="6.2" fill="#fcc591" />
<rect x="225.1" y="333.2" width="3.7" height="6.5" fill="#fcc591" />
<polyline points="227.25,257.3 227.55,258.13 227.89,258.97 228.26,259.8 228.68,260.63 229.15,261.47 229.66,262.3 230.23,263.13 230.85,263.96 231.54,264.8 232.29,265.63 233.1,266.46 233.99,267.3 234.95,268.13 236,268.96 237.12,269.8 238.33,270.63 239.62,271.46 241,272.29 242.47,273.13 244.03,273.96 245.68,274.79 247.42,275.63 249.26,276.46 251.18,277.29 253.18,278.12 255.27,278.96 257.43,279.79 259.66,280.62 261.96,281.46 264.32,282.29 266.74,283.12 269.19,283.96 271.67,284.79 274.18,285.62 276.7,286.46 279.22,287.29 281.72,288.12 284.2,288.95 286.64,289.79 289.03,290.62 291.34,291.45 293.58,292.29 295.73,293.12 297.76,293.95 299.68,294.79 301.46,295.62 303.1,296.45 304.59,297.28 305.9,298.12 307.04,298.95 308,299.78 308.77,300.62 309.34,301.45 309.72,302.28 309.89,303.12 309.86,303.95 309.62,304.78 309.18,305.61 308.55,306.45 307.72,307.28 306.7,308.11 305.51,308.95 304.14,309.78 302.6,310.61 300.92,311.45 299.09,312.28 297.13,313.11 295.06,313.94 292.89,314.78 290.62,315.61 288.28,316.44 285.87,317.28 283.42,318.11 280.93,318.94 278.42,319.78 275.9,320.61 273.39,321.44 270.89,322.27 268.41,323.11 265.97,323.94 263.57,324.77 261.23,325.61 258.95,326.44 256.74,327.27 254.6,328.11 252.54,328.94 250.56,329.77 248.67,330.6 246.87,331.44 245.15,332.27 243.53,333.1 242,333.94 240.55,334.77 239.2,335.6 237.94,336.44 236.76,337.27 235.66,338.1 234.64,338.93 233.7,339.77 232.84,340.6" fill="none" stroke="#a3845f" stroke-width="1" stroke-linejoin="round" stroke-linecap="round" />
<line x1="225.1" y1="256.8" x2="225.1" y2="341.6" stroke="#d5d5d5" stroke-width="1.7" />
<line x1="222.1" y1="257.6" x2="225.1" y2="257.6" stroke="#6d6e71" stroke-width="0.8" />
<text x="220.1" y="260.6" font-size="8.3" text-anchor="end" font-weight="normal" fill="#231f20"  stroke="#231f20">1.5</text>
<line x1="222.1" y1="271.4" x2="225.1" y2="271.4" stroke="#6d6e71" stroke-width="0.8" />
<line x1="222.1" y1="285.3" x2="225.1" y2="285.3" stroke="#6d6e71" stroke-width="0.8" />
<text x="220.1" y="288.3" font-size="8.3" text-anchor="end" font-weight="normal" fill="#231f20"  stroke="#231f20">1.0</text>
<line x1="222.1" y1="299.3" x2="225.1" y2="299.3" stroke="#6d6e71" stroke-width="0.8" />
<line x1="222.1" y1="313.2" x2="225.1" y2="313.2" stroke="#6d6e71" stroke-width="0.8" />
<text x="220.1" y="316.2" font-size="8.3" text-anchor="end" font-weight="normal" fill="#231f20"  stroke="#231f20">0.5</text>
<line x1="222.1" y1="327.2" x2="225.1" y2="327.2" stroke="#6d6e71" stroke-width="0.8" />
<line x1="222.1" y1="341" x2="225.1" y2="341" stroke="#6d6e71" stroke-width="0.8" />
<text x="220.1" y="344" font-size="8.3" text-anchor="end" font-weight="normal" fill="#231f20"  stroke="#231f20">0.0</text>
<text x="0" y="0" font-size="9.5" fill="#231f20" transform="translate(203.8 297.4) rotate(-90)" text-anchor="middle" stroke="#231f20"><tspan font-style="italic">I</tspan><tspan font-size="6.46" dy="2">on</tspan><tspan dy="-2"> (μA)</tspan></text>
<rect x="225.1" y="359" width="11.7" height="5.5" fill="#a9a9f6" />
<rect x="225.1" y="368.2" width="16" height="4.5" fill="#a9a9f6" />
<rect x="225.1" y="376.4" width="46.2" height="5.1" fill="#a9a9f6" />
<rect x="225.1" y="385.2" width="59.1" height="5" fill="#a9a9f6" />
<rect x="225.1" y="393.9" width="84.8" height="4.9" fill="#a9a9f6" />
<rect x="225.1" y="402.7" width="67.7" height="4.9" fill="#a9a9f6" />
<rect x="225.1" y="411.3" width="33.4" height="5" fill="#a9a9f6" />
<rect x="225.1" y="420" width="3.5" height="4.7" fill="#a9a9f6" />
<polyline points="225.78,351 225.92,351.84 226.09,352.69 226.29,353.53 226.52,354.37 226.78,355.21 227.09,356.06 227.45,356.9 227.87,357.74 228.34,358.59 228.88,359.43 229.5,360.27 230.19,361.12 230.98,361.96 231.86,362.8 232.84,363.64 233.93,364.49 235.14,365.33 236.47,366.17 237.94,367.02 239.53,367.86 241.26,368.7 243.14,369.55 245.15,370.39 247.31,371.23 249.61,372.07 252.05,372.92 254.61,373.76 257.3,374.6 260.11,375.45 263.02,376.29 266.02,377.13 269.09,377.98 272.21,378.82 275.37,379.66 278.54,380.5 281.7,381.35 284.82,382.19 287.88,383.03 290.85,383.88 293.71,384.72 296.42,385.56 298.96,386.41 301.31,387.25 303.44,388.09 305.34,388.94 306.97,389.78 308.32,390.62 309.38,391.46 310.13,392.31 310.57,393.15 310.7,393.99 310.5,394.84 309.99,395.68 309.17,396.52 308.04,397.37 306.63,398.21 304.94,399.05 302.99,399.89 300.81,400.74 298.42,401.58 295.84,402.42 293.09,403.27 290.21,404.11 287.22,404.95 284.14,405.8 281.01,406.64 277.84,407.48 274.67,408.32 271.52,409.17 268.41,410.01 265.35,410.85 262.37,411.7 259.48,412.54 256.7,413.38 254.04,414.23 251.5,415.07 249.09,415.91 246.82,416.75 244.7,417.6 242.71,418.44 240.87,419.28 239.17,420.13 237.6,420.97 236.17,421.81 234.86,422.66 233.68,423.5 232.61,424.34 231.65,425.18 230.8,426.03 230.03,426.87 229.35,427.71 228.76,428.56 228.23,429.4 227.77,430.24 227.37,431.09 227.02,431.93 226.72,432.77 226.46,433.61 226.24,434.46 226.05,435.3" fill="none" stroke="#55559f" stroke-width="1" stroke-linejoin="round" stroke-linecap="round" />
<line x1="225.1" y1="351" x2="225.1" y2="435.5" stroke="#d5d5d5" stroke-width="1.7" />
<line x1="224.3" y1="435.5" x2="324.3" y2="435.5" stroke="#a3a3a3" stroke-width="1" />
<line x1="222.1" y1="363.5" x2="225.1" y2="363.5" stroke="#6d6e71" stroke-width="0.8" />
<line x1="222.1" y1="375.4" x2="225.1" y2="375.4" stroke="#6d6e71" stroke-width="0.8" />
<text x="220.1" y="378.4" font-size="8.3" text-anchor="end" font-weight="normal" fill="#231f20"  stroke="#231f20">8.0</text>
<line x1="222.1" y1="387.4" x2="225.1" y2="387.4" stroke="#6d6e71" stroke-width="0.8" />
<line x1="222.1" y1="399.3" x2="225.1" y2="399.3" stroke="#6d6e71" stroke-width="0.8" />
<text x="220.1" y="402.3" font-size="8.3" text-anchor="end" font-weight="normal" fill="#231f20"  stroke="#231f20">7.0</text>
<line x1="222.1" y1="411.3" x2="225.1" y2="411.3" stroke="#6d6e71" stroke-width="0.8" />
<line x1="222.1" y1="423.2" x2="225.1" y2="423.2" stroke="#6d6e71" stroke-width="0.8" />
<text x="220.1" y="426.2" font-size="8.3" text-anchor="end" font-weight="normal" fill="#231f20"  stroke="#231f20">6.0</text>
<line x1="225.1" y1="435.5" x2="225.1" y2="438" stroke="#a7a9ac" stroke-width="0.8" />
<text x="225.1" y="446.4" font-size="8.3" text-anchor="middle" font-weight="normal" fill="#231f20"  stroke="#231f20">0.0</text>
<line x1="241.63" y1="435.5" x2="241.63" y2="438" stroke="#a7a9ac" stroke-width="0.8" />
<line x1="258.16" y1="435.5" x2="258.16" y2="438" stroke="#a7a9ac" stroke-width="0.8" />
<text x="258.16" y="446.4" font-size="8.3" text-anchor="middle" font-weight="normal" fill="#231f20"  stroke="#231f20">0.1</text>
<line x1="274.69" y1="435.5" x2="274.69" y2="438" stroke="#a7a9ac" stroke-width="0.8" />
<line x1="291.22" y1="435.5" x2="291.22" y2="438" stroke="#a7a9ac" stroke-width="0.8" />
<text x="291.22" y="446.4" font-size="8.3" text-anchor="middle" font-weight="normal" fill="#231f20"  stroke="#231f20">0.2</text>
<line x1="307.75" y1="435.5" x2="307.75" y2="438" stroke="#a7a9ac" stroke-width="0.8" />
<line x1="324.28" y1="435.5" x2="324.28" y2="438" stroke="#a7a9ac" stroke-width="0.8" />
<text x="324.28" y="446.4" font-size="8.3" text-anchor="middle" font-weight="normal" fill="#231f20"  stroke="#231f20">0.3</text>
<text x="0" y="0" font-size="9.5" fill="#231f20" transform="translate(204.8 393) rotate(-90)" text-anchor="middle" stroke="#231f20">On/off ratio (log)</text>
<text x="274.5" y="460.9" font-size="9.5" text-anchor="middle" font-weight="normal" fill="#231f20"  stroke="#231f20">Relative Frequency</text>
<text x="328.5" y="254.7" font-size="11" text-anchor="start" font-weight="bold" fill="#000"  stroke="#000">g</text>
<line x1="359.3" y1="257.5" x2="482.3" y2="257.5" stroke="#9c9c9c" stroke-width="1" />
<line x1="359.3" y1="433.2" x2="482.3" y2="433.2" stroke="#cccccc" stroke-width="1.3" />
<line x1="482.3" y1="257.5" x2="482.3" y2="433.2" stroke="#cccccc" stroke-width="1.3" />
<line x1="359.3" y1="257.5" x2="359.3" y2="433.2" stroke="#9c9c9c" stroke-width="1" />
<line x1="356.3" y1="257.5" x2="359.3" y2="257.5" stroke="#6d6e71" stroke-width="0.8" />
<line x1="357.3" y1="275.07" x2="359.3" y2="275.07" stroke="#6d6e71" stroke-width="0.8" />
<line x1="356.3" y1="292.64" x2="359.3" y2="292.64" stroke="#6d6e71" stroke-width="0.8" />
<line x1="357.3" y1="310.21" x2="359.3" y2="310.21" stroke="#6d6e71" stroke-width="0.8" />
<line x1="356.3" y1="327.78" x2="359.3" y2="327.78" stroke="#6d6e71" stroke-width="0.8" />
<line x1="357.3" y1="345.35" x2="359.3" y2="345.35" stroke="#6d6e71" stroke-width="0.8" />
<line x1="356.3" y1="362.92" x2="359.3" y2="362.92" stroke="#6d6e71" stroke-width="0.8" />
<line x1="357.3" y1="380.49" x2="359.3" y2="380.49" stroke="#6d6e71" stroke-width="0.8" />
<line x1="356.3" y1="398.06" x2="359.3" y2="398.06" stroke="#6d6e71" stroke-width="0.8" />
<line x1="357.3" y1="415.63" x2="359.3" y2="415.63" stroke="#6d6e71" stroke-width="0.8" />
<line x1="356.3" y1="433.2" x2="359.3" y2="433.2" stroke="#6d6e71" stroke-width="0.8" />
<text x="354.2" y="260.6" font-size="8.3" text-anchor="end" fill="#231f20" stroke="#231f20">10<tspan font-size="6.14" dy="-3.3">1</tspan></text>
<text x="354.2" y="295.74" font-size="8.3" text-anchor="end" fill="#231f20" stroke="#231f20">10<tspan font-size="6.14" dy="-3.3">-1</tspan></text>
<text x="354.2" y="330.88" font-size="8.3" text-anchor="end" fill="#231f20" stroke="#231f20">10<tspan font-size="6.14" dy="-3.3">-3</tspan></text>
<text x="354.2" y="366.02" font-size="8.3" text-anchor="end" fill="#231f20" stroke="#231f20">10<tspan font-size="6.14" dy="-3.3">-5</tspan></text>
<text x="354.2" y="401.16" font-size="8.3" text-anchor="end" fill="#231f20" stroke="#231f20">10<tspan font-size="6.14" dy="-3.3">-7</tspan></text>
<text x="354.2" y="436.3" font-size="8.3" text-anchor="end" fill="#231f20" stroke="#231f20">10<tspan font-size="6.14" dy="-3.3">-9</tspan></text>
<line x1="364.98" y1="433.2" x2="364.98" y2="435.7" stroke="#a7a9ac" stroke-width="0.8" />
<text x="364.98" y="444.4" font-size="8.3" text-anchor="middle" font-weight="normal" fill="#231f20"  stroke="#231f20">−40</text>
<line x1="387.29" y1="433.2" x2="387.29" y2="435.7" stroke="#a7a9ac" stroke-width="0.8" />
<text x="387.29" y="444.4" font-size="8.3" text-anchor="middle" font-weight="normal" fill="#231f20"  stroke="#231f20">−20</text>
<line x1="409.6" y1="433.2" x2="409.6" y2="435.7" stroke="#a7a9ac" stroke-width="0.8" />
<text x="409.6" y="444.4" font-size="8.3" text-anchor="middle" font-weight="normal" fill="#231f20"  stroke="#231f20">0</text>
<line x1="431.91" y1="433.2" x2="431.91" y2="435.7" stroke="#a7a9ac" stroke-width="0.8" />
<text x="431.91" y="444.4" font-size="8.3" text-anchor="middle" font-weight="normal" fill="#231f20"  stroke="#231f20">20</text>
<line x1="454.22" y1="433.2" x2="454.22" y2="435.7" stroke="#a7a9ac" stroke-width="0.8" />
<text x="454.22" y="444.4" font-size="8.3" text-anchor="middle" font-weight="normal" fill="#231f20"  stroke="#231f20">40</text>
<line x1="476.53" y1="433.2" x2="476.53" y2="435.7" stroke="#a7a9ac" stroke-width="0.8" />
<text x="476.53" y="444.4" font-size="8.3" text-anchor="middle" font-weight="normal" fill="#231f20"  stroke="#231f20">60</text>
<text x="0" y="0" font-size="9.5" fill="#231f20" transform="translate(336.6 345) rotate(-90)" text-anchor="middle" stroke="#231f20"><tspan font-style="italic">I</tspan><tspan font-size="6.46" dy="2">ds</tspan><tspan dy="-2"> (μA)</tspan></text>
<text x="421.2" y="459.6" font-size="9.5" fill="#231f20" text-anchor="middle" stroke="#231f20"><tspan font-style="italic">V</tspan><tspan font-size="6.46" dy="2">gs</tspan><tspan dy="-2"> (V)</tspan></text>
<polyline points="359.4,419.01 361.08,418.35 362.75,416.54 364.42,419.03 366.1,416.79 367.77,427.77 369.44,422.4 371.12,416.53 372.79,420.15 374.46,417.05 376.14,422.24 377.81,414.66 379.48,408.46 381.15,401.66 382.83,395.65 384.5,390.97 386.17,385.24 387.85,380.01 389.52,374.04 391.19,369.69 392.87,366.36 394.54,361.08 396.21,358.27 397.89,353.67 399.56,350.96 401.23,347.78 402.91,343.02 404.58,341.12 406.25,338.2 407.93,334.08 409.6,331.64 411.27,330.17 412.95,326.61 414.62,325.09 416.29,322.7 417.97,321.5 419.64,318.27 421.31,316.87 422.99,314.63 424.66,313.1 426.33,312.57 428.01,310.96 429.68,309.88 431.35,308.56 433.03,307.41 434.7,305.77 436.37,304.08 438.05,304.03 439.72,301.8 441.39,301.4 443.06,300.5 444.74,298.71 446.41,298.45 448.08,297.92 449.76,296.86 451.43,295.73 453.1,296.17 454.78,293.9 456.45,294.94 458.12,293.07 459.8,292.33 461.47,293.25 463.14,291.38 464.82,291.63 466.49,290.8 468.16,291.36 469.84,290.87 471.51,290.24 473.18,288.5 474.86,289.48 476.53,288.15" fill="none" stroke="#b5b5b5" stroke-width="0.75" stroke-linejoin="round" stroke-linecap="round" />
<polyline points="359.4,419.24 361.08,426.59 362.75,426.46 364.42,424.37 366.1,421.29 367.77,429.5 369.44,421.62 371.12,421.02 372.79,420.25 374.46,430.37 376.14,419.19 377.81,429.7 379.48,419.8 381.15,412.61 382.83,405.69 384.5,400.65 386.17,393.86 387.85,389.06 389.52,384.27 391.19,379.32 392.87,374.87 394.54,370.58 396.21,366.22 397.89,361.24 399.56,356.87 401.23,354.7 402.91,351.45 404.58,346.52 406.25,344.19 407.93,341.45 409.6,338.93 411.27,335.63 412.95,332.68 414.62,330.91 416.29,328.67 417.97,327.14 419.64,323.55 421.31,323.13 422.99,320.45 424.66,318.07 426.33,317.62 428.01,314.96 429.68,313.05 431.35,312.16 433.03,310.51 434.7,310.4 436.37,308.58 438.05,307.9 439.72,305.55 441.39,305.45 443.06,304.16 444.74,302.24 446.41,301.58 448.08,300.49 449.76,300.58 451.43,299.74 453.1,298.57 454.78,298.3 456.45,297.95 458.12,297.12 459.8,296.96 461.47,295.98 463.14,294.35 464.82,293.88 466.49,293.97 468.16,293.72 469.84,293.56 471.51,293.57 473.18,292.84 474.86,291.57 476.53,291.05" fill="none" stroke="#b5b5b5" stroke-width="0.75" stroke-linejoin="round" stroke-linecap="round" />
<polyline points="359.4,416.16 361.08,416.3 362.75,417.29 364.42,417.67 366.1,416.49 367.77,421.36 369.44,417.17 371.12,422.38 372.79,419.86 374.46,416.37 376.14,417.34 377.81,416.13 379.48,408.47 381.15,402.8 382.83,397.04 384.5,392.46 386.17,386.22 387.85,381.71 389.52,376.19 391.19,372.02 392.87,367.09 394.54,363.3 396.21,359.15 397.89,356.25 399.56,352.23 401.23,348.74 402.91,345.42 404.58,343.26 406.25,339.55 407.93,336.79 409.6,334.54 411.27,331.6 412.95,329.32 414.62,327.89 416.29,325.78 417.97,324.44 419.64,321.37 421.31,319.41 422.99,318.52 424.66,316.53 426.33,314.95 428.01,313.48 429.68,313.08 431.35,310.7 433.03,309.8 434.7,308.47 436.37,307.78 438.05,306.36 439.72,305.08 441.39,304.36 443.06,303.3 444.74,303.65 446.41,302.59 448.08,301.32 449.76,300.21 451.43,300.26 453.1,298.77 454.78,298.23 456.45,298.66 458.12,297.34 459.8,297.22 461.47,297.01 463.14,296.38 464.82,295.59 466.49,295.39 468.16,294.94 469.84,294.82 471.51,293.69 473.18,293.48 474.86,292.73 476.53,292.44" fill="none" stroke="#b5b5b5" stroke-width="0.75" stroke-linejoin="round" stroke-linecap="round" />
<polyline points="359.4,413.64 361.08,424.74 362.75,419.76 364.42,421.32 366.1,419.7 367.77,423.33 369.44,414.52 371.12,420.15 372.79,424.3 374.46,417.2 376.14,423.58 377.81,418.04 379.48,416.04 381.15,409.27 382.83,402.58 384.5,397.1 386.17,392.36 387.85,386.5 389.52,381.88 391.19,377.69 392.87,373.65 394.54,368.64 396.21,364.69 397.89,360.19 399.56,356.55 401.23,353.75 402.91,350.93 404.58,346.87 406.25,345.49 407.93,342.5 409.6,339.03 411.27,336.41 412.95,334.84 414.62,331.69 416.29,329.06 417.97,327.9 419.64,325.84 421.31,324.34 422.99,322.45 424.66,319.57 426.33,319.02 428.01,316.48 429.68,315.11 431.35,314.3 433.03,313.59 434.7,311.08 436.37,310.75 438.05,309.78 439.72,308.88 441.39,306.7 443.06,306.61 444.74,306.06 446.41,304.85 448.08,304.65 449.76,302.99 451.43,302.56 453.1,302.12 454.78,300.59 456.45,299.87 458.12,300.69 459.8,299.2 461.47,299.11 463.14,297.43 464.82,297.2 466.49,297.68 468.16,297.19 469.84,296.96 471.51,295.1 473.18,295.93 474.86,295.02 476.53,294.9" fill="none" stroke="#b5b5b5" stroke-width="0.75" stroke-linejoin="round" stroke-linecap="round" />
<polyline points="359.4,420.9 361.08,419.18 362.75,426.87 364.42,418.97 366.1,424.63 367.77,421.76 369.44,424.19 371.12,424.67 372.79,421.81 374.46,422.61 376.14,423.88 377.81,419.16 379.48,421.06 381.15,427.88 382.83,416.79 384.5,409.82 386.17,402.73 387.85,396.81 389.52,391.74 391.19,387.28 392.87,380.82 394.54,376.57 396.21,371.69 397.89,367.07 399.56,363.03 401.23,359.33 402.91,354.81 404.58,352.16 406.25,348.75 407.93,344.71 409.6,342.8 411.27,339.71 412.95,336 414.62,334.71 416.29,330.86 417.97,328.73 419.64,326.93 421.31,325.05 422.99,322.14 424.66,319.98 426.33,319.49 428.01,317.15 429.68,315.37 431.35,313.88 433.03,312.68 434.7,311.56 436.37,309.45 438.05,307.77 439.72,307.86 441.39,306.41 443.06,304.27 444.74,303.28 446.41,302.51 448.08,302.68 449.76,300.56 451.43,299.26 453.1,298.41 454.78,298.16 456.45,298.58 458.12,296.49 459.8,296.92 461.47,295.55 463.14,294.41 464.82,294.27 466.49,294.74 468.16,293.95 469.84,292.37 471.51,293.26 473.18,292.01 474.86,291.94 476.53,291.99" fill="none" stroke="#b5b5b5" stroke-width="0.75" stroke-linejoin="round" stroke-linecap="round" />
<polyline points="359.4,427.59 361.08,426.79 362.75,423.46 364.42,427.24 366.1,427.42 367.77,421.05 369.44,419 371.12,417.32 372.79,426.47 374.46,422.82 376.14,424.26 377.81,420.74 379.48,416.69 381.15,409.3 382.83,404.03 384.5,398.65 386.17,391.9 387.85,387.52 389.52,381.62 391.19,377.05 392.87,371.8 394.54,368.12 396.21,363.93 397.89,360.69 399.56,356.52 401.23,353.56 402.91,349.4 404.58,346.69 406.25,344.4 407.93,341.42 409.6,338.52 411.27,335.36 412.95,333.95 414.62,330.75 416.29,328.71 417.97,327.68 419.64,324.73 421.31,323.91 422.99,322.12 424.66,319.66 426.33,318.73 428.01,316.13 429.68,315.43 431.35,314.38 433.03,312.3 434.7,312.45 436.37,310.1 438.05,310.21 439.72,309.03 441.39,306.66 443.06,306.23 444.74,306.17 446.41,305.54 448.08,303.26 449.76,303.07 451.43,302.1 453.1,302.63 454.78,301.15 456.45,301.04 458.12,300.68 459.8,299.98 461.47,298.98 463.14,298.97 464.82,298.45 466.49,298.46 468.16,296.83 469.84,296.76 471.51,296.12 473.18,296.43 474.86,295.36 476.53,295.64" fill="none" stroke="#b5b5b5" stroke-width="0.75" stroke-linejoin="round" stroke-linecap="round" />
<polyline points="359.4,420.81 361.08,418.76 362.75,423 364.42,417.17 366.1,410.43 367.77,403.66 369.44,397.84 371.12,390.59 372.79,385.87 374.46,380.25 376.14,376.74 377.81,371.34 379.48,366.29 381.15,362.7 382.83,359.19 384.5,355.51 386.17,352.73 387.85,349.4 389.52,346.35 391.19,343.1 392.87,340.37 394.54,336.94 396.21,335.8 397.89,333.34 399.56,331.15 401.23,329.33 402.91,327.19 404.58,325.47 406.25,323.33 407.93,322.51 409.6,319.43 411.27,318.97 412.95,316.62 414.62,315.78 416.29,314.6 417.97,313.82 419.64,311.91 421.31,312.35 422.99,310.43 424.66,310.19 426.33,308.67 428.01,307.77 429.68,308 431.35,307.22 433.03,306.86 434.7,305.86 436.37,305.53 438.05,304.39 439.72,302.85 441.39,303.42 443.06,303.03 444.74,302.31 446.41,302.21 448.08,301.02 449.76,300.66 451.43,301.28 453.1,300.81 454.78,299.73 456.45,298.96 458.12,299.2 459.8,299.31 461.47,298.1 463.14,299.57 464.82,299.24 466.49,297.77 468.16,298.22 469.84,298.67 471.51,297.61 473.18,296.67 474.86,297.34 476.53,297.48" fill="none" stroke="#b5b5b5" stroke-width="0.75" stroke-linejoin="round" stroke-linecap="round" />
<polyline points="359.4,422.61 361.08,412.43 362.75,417.44 364.42,411.97 366.1,422.82 367.77,420.49 369.44,422.86 371.12,418.6 372.79,422.74 374.46,420.34 376.14,418.47 377.81,419.72 379.48,422.85 381.15,423.02 382.83,413.4 384.5,407.33 386.17,399.78 387.85,393.47 389.52,387.18 391.19,382.31 392.87,376.63 394.54,372.07 396.21,366.72 397.89,361.77 399.56,358.35 401.23,354.17 402.91,351.82 404.58,348.93 406.25,344.99 407.93,342.26 409.6,339.48 411.27,337.37 412.95,334.64 414.62,332.33 416.29,330.01 417.97,329.22 419.64,327.23 421.31,324.95 422.99,324.51 424.66,323.29 426.33,321.63 428.01,320.8 429.68,318.46 431.35,317.31 433.03,317.21 434.7,316.6 436.37,315.82 438.05,314.73 439.72,314.26 441.39,312.95 443.06,312.04 444.74,312.01 446.41,311.77 448.08,310.11 449.76,310.76 451.43,310.03 453.1,309.45 454.78,308.9 456.45,309 458.12,308.09 459.8,307.95 461.47,306.88 463.14,306.94 464.82,306.07 466.49,306.25 468.16,305.84 469.84,305.95 471.51,305.98 473.18,305.13 474.86,305.24 476.53,304.55" fill="none" stroke="#b5b5b5" stroke-width="0.75" stroke-linejoin="round" stroke-linecap="round" />
<polyline points="359.4,420.43 361.08,425.76 362.75,419.07 364.42,424.35 366.1,427.45 367.77,428.24 369.44,426.97 371.12,422.78 372.79,414.74 374.46,408.51 376.14,402.38 377.81,394.99 379.48,389.54 381.15,384.98 382.83,379.76 384.5,374.73 386.17,369.72 387.85,364.48 389.52,360.21 391.19,356.92 392.87,353.93 394.54,350.12 396.21,346.97 397.89,343.95 399.56,341.6 401.23,337.85 402.91,334.83 404.58,332.56 406.25,331.36 407.93,328.41 409.6,326.99 411.27,324.1 412.95,322.73 414.62,320.13 416.29,318.75 417.97,318.4 419.64,316.59 421.31,314.17 422.99,313.67 424.66,312.49 426.33,311.32 428.01,309.66 429.68,308.33 431.35,308.07 433.03,306.39 434.7,306.18 436.37,306.22 438.05,304.2 439.72,304.17 441.39,304.13 443.06,301.85 444.74,302.9 446.41,301.36 448.08,300.99 449.76,299.77 451.43,300.14 453.1,299.99 454.78,299.45 456.45,299.18 458.12,298.15 459.8,298.15 461.47,297.11 463.14,297.68 464.82,297.18 466.49,297.08 468.16,295.51 469.84,295.51 471.51,295.25 473.18,295.42 474.86,295.59 476.53,295.84" fill="none" stroke="#b5b5b5" stroke-width="0.75" stroke-linejoin="round" stroke-linecap="round" />
<polyline points="359.4,433.7 360.52,417.66 361.63,425.85 362.75,423.88 363.86,415.36 364.98,416.35 366.1,428.85 367.21,433.7 368.33,422.85 369.44,428.58 370.56,422.95 371.67,417.88 372.79,413.47 373.9,414.4 375.02,418.41 376.14,416.38 377.25,419.62 378.37,433.7 379.48,433.7 380.6,423.38 381.71,416.99 382.83,418.79 383.94,413.56 385.06,408.52 386.17,403.65 387.29,398.95 388.41,394.42 390.64,385.82 392.87,377.81 395.1,370.36 397.33,363.41 399.56,356.95 401.79,350.92 404.02,345.32 406.25,340.1 408.48,335.23 410.72,330.71 412.95,326.49 415.18,322.56 417.41,318.91 419.64,315.5 421.87,312.33 424.1,309.38 426.33,306.63 428.56,304.07 430.79,301.68 433.03,299.46 435.26,297.39 437.49,295.47 439.72,293.68 441.95,292.01 444.18,290.45 446.41,289 448.64,287.65 450.87,286.4 453.1,285.23 455.34,284.14 457.57,283.13 459.8,282.18 462.03,281.3 464.26,280.48 466.49,279.72 468.72,279.01 470.95,278.35 473.18,277.73 475.41,277.16" fill="none" stroke="#eb9aab" stroke-width="1.05" stroke-linejoin="round" stroke-linecap="round" />
<polyline points="359.4,433.7 360.52,418.34 361.63,415.12 362.75,419.38 363.86,418.58 364.98,426.95 366.1,433.7 367.21,414.84 368.33,433.7 369.44,433.7 370.56,419.93 371.67,415.86 372.79,433.7 373.9,419.36 375.02,418.94 376.14,433.7 377.25,433.7 378.37,420.42 379.48,427.61 380.6,433.7 381.71,429.26 382.83,417.13 383.94,418.74 385.06,419.67 386.17,414.54 387.29,409.58 388.41,404.8 389.52,400.18 390.64,395.73 392.87,387.27 395.1,379.38 397.33,372.03 399.56,365.18 401.79,358.79 404.02,352.84 406.25,347.29 408.48,342.12 410.72,337.3 412.95,332.8 415.18,328.61 417.41,324.71 419.64,321.07 421.87,317.68 424.1,314.51 426.33,311.56 428.56,308.82 430.79,306.26 433.03,303.87 435.26,301.64 437.49,299.57 439.72,297.63 441.95,295.83 444.18,294.15 446.41,292.58 448.64,291.12 450.87,289.76 453.1,288.49 455.34,287.31 457.57,286.21 459.8,285.18 462.03,284.22 464.26,283.33 466.49,282.5 468.72,281.72 470.95,281 473.18,280.33 475.41,279.7" fill="none" stroke="#eb9aab" stroke-width="1.05" stroke-linejoin="round" stroke-linecap="round" />
<polyline points="359.4,433.7 360.52,424 361.63,433.7 362.75,431.75 363.86,433.7 364.98,430.57 366.1,423.36 367.21,433.7 368.33,425.91 369.44,418.44 370.56,420.13 371.67,433.7 372.79,422.56 373.9,433.7 375.02,433.7 376.14,433.7 377.25,433.7 378.37,421.59 379.48,420.67 380.6,422.3 381.71,418.44 382.83,433.7 383.94,421.24 385.06,416.12 386.17,411.17 387.29,406.39 388.41,401.78 389.52,397.32 391.75,388.86 393.98,380.96 396.21,373.59 398.45,366.71 400.68,360.3 402.91,354.31 405.14,348.73 407.37,343.52 409.6,338.66 411.83,334.12 414.06,329.89 416.29,325.94 418.52,322.26 420.75,318.82 422.99,315.61 425.22,312.62 427.45,309.83 429.68,307.23 431.91,304.79 434.14,302.53 436.37,300.41 438.6,298.44 440.83,296.6 443.06,294.88 445.3,293.27 447.53,291.78 449.76,290.38 451.99,289.08 454.22,287.86 456.45,286.73 458.68,285.67 460.91,284.69 463.14,283.77 465.38,282.91 467.61,282.1 469.84,281.36 472.07,280.66 474.3,280.01 476.53,279.4" fill="none" stroke="#eb9aab" stroke-width="1.05" stroke-linejoin="round" stroke-linecap="round" />
<polyline points="359.4,423.97 360.52,419.13 361.63,428.57 362.75,421.3 363.86,428.04 364.98,423.97 366.1,422.06 367.21,433.7 368.33,417.88 369.44,433.7 370.56,422.32 371.67,418.24 372.79,433.7 373.9,422.01 375.02,417.42 376.14,425.22 377.25,416.49 378.37,429.1 379.48,426.13 380.6,433.7 381.71,428.38 382.83,414.33 383.94,417.94 385.06,413.04 386.17,408.3 387.29,403.72 388.41,399.29 389.52,395.01 391.75,386.88 393.98,379.29 396.21,372.2 398.45,365.58 400.68,359.39 402.91,353.62 405.14,348.23 407.37,343.19 409.6,338.49 411.83,334.09 414.06,329.99 416.29,326.16 418.52,322.58 420.75,319.24 422.99,316.12 425.22,313.21 427.45,310.49 429.68,307.94 431.91,305.57 434.14,303.35 436.37,301.28 438.6,299.35 440.83,297.55 443.06,295.86 445.3,294.29 447.53,292.82 449.76,291.44 451.99,290.16 454.22,288.96 456.45,287.84 458.68,286.8 460.91,285.82 463.14,284.91 465.38,284.06 467.61,283.27 469.84,282.53 472.07,281.83 474.3,281.19 476.53,280.58" fill="none" stroke="#eb9aab" stroke-width="1.05" stroke-linejoin="round" stroke-linecap="round" />
<polyline points="359.4,423.67 360.52,429.21 361.63,433.7 362.75,425.32 363.86,423.24 364.98,433.7 366.1,413.88 367.21,433.7 368.33,424.88 369.44,418.43 370.56,428.45 371.67,416.98 372.79,419.91 373.9,419.09 375.02,433.7 376.14,417.12 377.25,415.47 378.37,414.82 379.48,413.49 380.6,433.7 381.71,416.94 382.83,413.92 383.94,425.86 385.06,425.01 386.17,424.76 387.29,418.05 388.41,413.18 389.52,408.48 390.64,403.93 391.75,399.54 392.87,395.29 395.1,387.2 397.33,379.65 399.56,372.58 401.79,365.98 404.02,359.81 406.25,354.05 408.48,348.65 410.72,343.61 412.95,338.9 415.18,334.5 417.41,330.39 419.64,326.54 421.87,322.94 424.1,319.58 426.33,316.44 428.56,313.5 430.79,310.76 433.03,308.19 435.26,305.79 437.49,303.55 439.72,301.46 441.95,299.5 444.18,297.67 446.41,295.96 448.64,294.36 450.87,292.86 453.1,291.46 455.34,290.16 457.57,288.94 459.8,287.79 462.03,286.73 464.26,285.73 466.49,284.8 468.72,283.93 470.95,283.11 473.18,282.35 475.41,281.64" fill="none" stroke="#eb9aab" stroke-width="1.05" stroke-linejoin="round" stroke-linecap="round" />
<polyline points="359.4,430.05 360.52,417.03 361.63,433.7 362.75,418.12 363.86,433.7 364.98,427.48 366.1,433.7 367.21,428.3 368.33,427 369.44,425.32 370.56,428.82 371.67,415.8 372.79,433.7 373.9,421.04 375.02,425.39 376.14,422.02 377.25,427.41 378.37,427.06 379.48,433.7 380.6,423.61 381.71,431.09 382.83,424.6 383.94,421.57 385.06,420.15 386.17,415.31 387.29,410.63 388.41,406.1 389.52,401.72 390.64,397.48 392.87,389.42 395.1,381.88 397.33,374.82 399.56,368.22 401.79,362.04 404.02,356.26 406.25,350.86 408.48,345.8 410.72,341.07 412.95,336.64 415.18,332.5 417.41,328.63 419.64,325 421.87,321.61 424.1,318.44 426.33,315.47 428.56,312.69 430.79,310.1 433.03,307.67 435.26,305.39 437.49,303.27 439.72,301.28 441.95,299.41 444.18,297.67 446.41,296.04 448.64,294.52 450.87,293.09 453.1,291.76 455.34,290.51 457.57,289.34 459.8,288.25 462.03,287.23 464.26,286.27 466.49,285.38 468.72,284.54 470.95,283.76 473.18,283.02 475.41,282.34" fill="none" stroke="#eb9aab" stroke-width="1.05" stroke-linejoin="round" stroke-linecap="round" />
<polyline points="359.4,422.91 360.52,433.7 361.63,421.89 362.75,414.39 363.86,420.63 364.98,414.19 366.1,413.39 367.21,426.37 368.33,427.79 369.44,417.37 370.56,422.86 371.67,424.28 372.79,433.7 373.9,423.46 375.02,433.7 376.14,433.7 377.25,427.62 378.37,426.74 379.48,433.7 380.6,416.62 381.71,424.86 382.83,419.11 383.94,433.7 385.06,424.84 386.17,422.07 387.29,418.24 388.41,413.53 389.52,408.98 390.64,404.57 391.75,400.31 392.87,396.18 395.1,388.33 397.33,380.97 399.56,374.09 401.79,367.64 404.02,361.6 406.25,355.95 408.48,350.65 410.72,345.7 412.95,341.05 415.18,336.71 417.41,332.64 419.64,328.83 421.87,325.26 424.1,321.92 426.33,318.79 428.56,315.86 430.79,313.12 433.03,310.55 435.26,308.15 437.49,305.9 439.72,303.79 441.95,301.82 444.18,299.97 446.41,298.24 448.64,296.62 450.87,295.1 453.1,293.68 455.34,292.35 457.57,291.1 459.8,289.94 462.03,288.84 464.26,287.82 466.49,286.86 468.72,285.97 470.95,285.13 473.18,284.34 475.41,283.61" fill="none" stroke="#eb9aab" stroke-width="1.05" stroke-linejoin="round" stroke-linecap="round" />
<polyline points="359.4,417.38 360.52,433.7 361.63,416.05 362.75,433.7 363.86,433.7 364.98,417.68 366.1,433.7 367.21,433.7 368.33,428.07 369.44,433.7 370.56,421.8 371.67,414.98 372.79,427.98 373.9,433.7 375.02,433.7 376.14,433.7 377.25,417.09 378.37,414.82 379.48,433.7 380.6,424.92 381.71,433.7 382.83,433.7 383.94,422.36 385.06,433.7 386.17,426.89 387.29,415.49 388.41,410.93 389.52,406.51 390.64,402.24 391.75,398.1 392.87,394.09 395.1,386.45 397.33,379.3 399.56,372.59 401.79,366.31 404.02,360.42 406.25,354.9 408.48,349.73 410.72,344.88 412.95,340.34 415.18,336.08 417.41,332.09 419.64,328.36 421.87,324.85 424.1,321.57 426.33,318.49 428.56,315.61 430.79,312.91 433.03,310.38 435.26,308 437.49,305.78 439.72,303.7 441.95,301.74 444.18,299.92 446.41,298.2 448.64,296.59 450.87,295.09 453.1,293.68 455.34,292.35 457.57,291.11 459.8,289.95 462.03,288.86 464.26,287.84 466.49,286.89 468.72,285.99 470.95,285.15 473.18,284.37 475.41,283.63" fill="none" stroke="#eb9aab" stroke-width="1.05" stroke-linejoin="round" stroke-linecap="round" />
<line x1="362.1" y1="265.5" x2="381.6" y2="265.5" stroke="#eb9aab" stroke-width="1.5" />
<line x1="362.1" y1="275.2" x2="381.6" y2="275.2" stroke="#b5b5b5" stroke-width="0.9" />
<text x="383.3" y="268.4" font-size="8.3" text-anchor="start" font-weight="normal" fill="#231f20"  stroke="#231f20">Inorganic Se</text>
<text x="383.3" y="278.1" font-size="8.3" text-anchor="start" font-weight="normal" fill="#231f20"  stroke="#231f20">Organic polymer</text>
<rect x="370.9" y="297.5" width="33.1" height="10.4" fill="#ecb4c0" />
<text x="387.5" y="305.4" font-size="8.6" text-anchor="middle" font-weight="normal" fill="#231f20"  stroke="#231f20">Se</text>
<circle cx="374.9" cy="310.6" r="1.2" fill="#e8e44a"/>
<circle cx="374.9" cy="318.3" r="1.1" fill="#f3f0c0"/>
<circle cx="372.4" cy="314.3" r="1.25" fill="#eedcf0" stroke="#9a6aa8" stroke-width="0.7"/>
<path d="M371.5,318.3 L372.4,314.3 L374.9,310.6" stroke="#ddd" stroke-width="0.4" fill="none"/>
<circle cx="381.7" cy="310.6" r="1.2" fill="#e8e44a"/>
<circle cx="381.7" cy="318.3" r="1.1" fill="#f3f0c0"/>
<circle cx="379.2" cy="314.3" r="1.25" fill="#eedcf0" stroke="#9a6aa8" stroke-width="0.7"/>
<path d="M378.3,318.3 L379.2,314.3 L381.7,310.6" stroke="#ddd" stroke-width="0.4" fill="none"/>
<circle cx="388.5" cy="310.6" r="1.2" fill="#e8e44a"/>
<circle cx="388.5" cy="318.3" r="1.1" fill="#f3f0c0"/>
<circle cx="386" cy="314.3" r="1.25" fill="#eedcf0" stroke="#9a6aa8" stroke-width="0.7"/>
<path d="M385.1,318.3 L386,314.3 L388.5,310.6" stroke="#ddd" stroke-width="0.4" fill="none"/>
<circle cx="395.3" cy="310.6" r="1.2" fill="#e8e44a"/>
<circle cx="395.3" cy="318.3" r="1.1" fill="#f3f0c0"/>
<circle cx="392.8" cy="314.3" r="1.25" fill="#eedcf0" stroke="#9a6aa8" stroke-width="0.7"/>
<path d="M391.9,318.3 L392.8,314.3 L395.3,310.6" stroke="#ddd" stroke-width="0.4" fill="none"/>
<circle cx="402.1" cy="310.6" r="1.2" fill="#e8e44a"/>
<circle cx="402.1" cy="318.3" r="1.1" fill="#f3f0c0"/>
<circle cx="399.6" cy="314.3" r="1.25" fill="#eedcf0" stroke="#9a6aa8" stroke-width="0.7"/>
<path d="M398.7,318.3 L399.6,314.3 L402.1,310.6" stroke="#ddd" stroke-width="0.4" fill="none"/>
<line x1="421.6" y1="305.5" x2="410.5" y2="303.4" stroke="#eb9aab" stroke-width="1" />
<polygon points="408.2,303 413.2,300.4 412.4,305.6" fill="#eb9aab" stroke="none" stroke-width="1" />
<rect x="431.9" y="338.9" width="33.2" height="10.5" fill="#e8e8e8" />
<text x="448.3" y="346.6" font-size="8.6" text-anchor="middle" font-weight="normal" fill="#231f20"  stroke="#231f20">Polymer</text>
<circle cx="436" cy="351.9" r="1.2" fill="#e8e44a"/>
<circle cx="436" cy="359.6" r="1.1" fill="#f3f0c0"/>
<circle cx="433.5" cy="355.6" r="1.25" fill="#eedcf0" stroke="#9a6aa8" stroke-width="0.7"/>
<path d="M432.6,359.6 L433.5,355.6 L436,351.9" stroke="#ddd" stroke-width="0.4" fill="none"/>
<circle cx="442.8" cy="351.9" r="1.2" fill="#e8e44a"/>
<circle cx="442.8" cy="359.6" r="1.1" fill="#f3f0c0"/>
<circle cx="440.3" cy="355.6" r="1.25" fill="#eedcf0" stroke="#9a6aa8" stroke-width="0.7"/>
<path d="M439.4,359.6 L440.3,355.6 L442.8,351.9" stroke="#ddd" stroke-width="0.4" fill="none"/>
<circle cx="449.6" cy="351.9" r="1.2" fill="#e8e44a"/>
<circle cx="449.6" cy="359.6" r="1.1" fill="#f3f0c0"/>
<circle cx="447.1" cy="355.6" r="1.25" fill="#eedcf0" stroke="#9a6aa8" stroke-width="0.7"/>
<path d="M446.2,359.6 L447.1,355.6 L449.6,351.9" stroke="#ddd" stroke-width="0.4" fill="none"/>
<circle cx="456.4" cy="351.9" r="1.2" fill="#e8e44a"/>
<circle cx="456.4" cy="359.6" r="1.1" fill="#f3f0c0"/>
<circle cx="453.9" cy="355.6" r="1.25" fill="#eedcf0" stroke="#9a6aa8" stroke-width="0.7"/>
<path d="M453,359.6 L453.9,355.6 L456.4,351.9" stroke="#ddd" stroke-width="0.4" fill="none"/>
<circle cx="463.2" cy="351.9" r="1.2" fill="#e8e44a"/>
<circle cx="463.2" cy="359.6" r="1.1" fill="#f3f0c0"/>
<circle cx="460.7" cy="355.6" r="1.25" fill="#eedcf0" stroke="#9a6aa8" stroke-width="0.7"/>
<path d="M459.8,359.6 L460.7,355.6 L463.2,351.9" stroke="#ddd" stroke-width="0.4" fill="none"/>
<line x1="440" y1="322.2" x2="444.5" y2="331.2" stroke="#c8c8c8" stroke-width="1" />
<polygon points="445.6,334.2 441.8,330.4 446.6,329.2" fill="#c8c8c8" stroke="none" stroke-width="1" />
<text x="474.2" y="406.8" font-size="9.3" fill="#231f20" text-anchor="end" stroke="#231f20"><tspan font-style="italic">V</tspan><tspan font-size="6.6" dy="2">ds</tspan><tspan dy="-2">=0.5 V</tspan></text>
<text x="479.6" y="426.0" font-size="9.3" fill="#231f20" text-anchor="end" stroke="#231f20"><tspan font-style="italic">L</tspan><tspan font-size="6.6" dy="2">ch</tspan><tspan dy="-2">/</tspan><tspan font-style="italic">W</tspan><tspan font-size="6.6" dy="2">ch</tspan><tspan dy="-2">=12/5 μm</tspan></text>
<text x="513.3" y="255" font-size="11" text-anchor="start" font-weight="bold" fill="#000"  stroke="#000">h</text>
<ellipse cx="623.8" cy="303.6" rx="44.2" ry="13.2" transform="rotate(35.5 624.3 303.2)" fill="#fcefcb"/>
<line x1="547.3" y1="257.3" x2="684.4" y2="257.3" stroke="#707070" stroke-width="1" />
<line x1="547.3" y1="433.2" x2="684.4" y2="433.2" stroke="#707070" stroke-width="1" />
<line x1="684.4" y1="257.3" x2="684.4" y2="433.2" stroke="#707070" stroke-width="1" />
<line x1="547.3" y1="257.3" x2="547.3" y2="433.2" stroke="#707070" stroke-width="1" />
<line x1="544.3" y1="427.1" x2="547.3" y2="427.1" stroke="#6d6e71" stroke-width="0.8" />
<text x="542.1" y="430.1" font-size="8.4" text-anchor="end" font-weight="normal" fill="#231f20"  stroke="#231f20">4</text>
<line x1="545.5" y1="410.73" x2="547.3" y2="410.73" stroke="#6d6e71" stroke-width="0.8" />
<line x1="544.3" y1="394.36" x2="547.3" y2="394.36" stroke="#6d6e71" stroke-width="0.8" />
<text x="542.1" y="397.36" font-size="8.4" text-anchor="end" font-weight="normal" fill="#231f20"  stroke="#231f20">5</text>
<line x1="545.5" y1="377.99" x2="547.3" y2="377.99" stroke="#6d6e71" stroke-width="0.8" />
<line x1="544.3" y1="361.62" x2="547.3" y2="361.62" stroke="#6d6e71" stroke-width="0.8" />
<text x="542.1" y="364.62" font-size="8.4" text-anchor="end" font-weight="normal" fill="#231f20"  stroke="#231f20">6</text>
<line x1="545.5" y1="345.25" x2="547.3" y2="345.25" stroke="#6d6e71" stroke-width="0.8" />
<line x1="544.3" y1="328.88" x2="547.3" y2="328.88" stroke="#6d6e71" stroke-width="0.8" />
<text x="542.1" y="331.88" font-size="8.4" text-anchor="end" font-weight="normal" fill="#231f20"  stroke="#231f20">7</text>
<line x1="545.5" y1="312.51" x2="547.3" y2="312.51" stroke="#6d6e71" stroke-width="0.8" />
<line x1="544.3" y1="296.14" x2="547.3" y2="296.14" stroke="#6d6e71" stroke-width="0.8" />
<text x="542.1" y="299.14" font-size="8.4" text-anchor="end" font-weight="normal" fill="#231f20"  stroke="#231f20">8</text>
<line x1="545.5" y1="279.77" x2="547.3" y2="279.77" stroke="#6d6e71" stroke-width="0.8" />
<line x1="544.3" y1="263.4" x2="547.3" y2="263.4" stroke="#6d6e71" stroke-width="0.8" />
<text x="542.1" y="266.4" font-size="8.4" text-anchor="end" font-weight="normal" fill="#231f20"  stroke="#231f20">9</text>
<line x1="545.5" y1="436.92" x2="547.3" y2="436.92" stroke="#6d6e71" stroke-width="0" />
<line x1="567.8" y1="433.2" x2="567.8" y2="436.2" stroke="#6d6e71" stroke-width="0.8" />
<text x="567.8" y="444.6" font-size="8.3" text-anchor="middle" font-weight="normal" fill="#231f20"  stroke="#231f20">5</text>
<line x1="589.4" y1="433.2" x2="589.4" y2="436.2" stroke="#6d6e71" stroke-width="0.8" />
<text x="589.4" y="444.6" font-size="8.3" text-anchor="middle" font-weight="normal" fill="#231f20"  stroke="#231f20">10</text>
<line x1="610" y1="433.2" x2="610" y2="436.2" stroke="#6d6e71" stroke-width="0.8" />
<text x="610" y="444.6" font-size="8.3" text-anchor="middle" font-weight="normal" fill="#231f20"  stroke="#231f20">15</text>
<line x1="630.8" y1="433.2" x2="630.8" y2="436.2" stroke="#6d6e71" stroke-width="0.8" />
<text x="630.8" y="444.6" font-size="8.3" text-anchor="middle" font-weight="normal" fill="#231f20"  stroke="#231f20">20</text>
<line x1="651.6" y1="433.2" x2="651.6" y2="436.2" stroke="#6d6e71" stroke-width="0.8" />
<text x="651.6" y="444.6" font-size="8.3" text-anchor="middle" font-weight="normal" fill="#231f20"  stroke="#231f20">25</text>
<line x1="672.5" y1="433.2" x2="672.5" y2="436.2" stroke="#6d6e71" stroke-width="0.8" />
<text x="672.5" y="444.6" font-size="8.3" text-anchor="middle" font-weight="normal" fill="#231f20"  stroke="#231f20">50</text>
<line x1="547.3" y1="433.2" x2="547.3" y2="436.2" stroke="#6d6e71" stroke-width="0.8" />
<rect x="655.5" y="255.8" width="3.2" height="3" fill="#fff" />
<line x1="654.6" y1="259.3" x2="656.6" y2="255.3" stroke="#6d6e71" stroke-width="0.7" />
<line x1="657.4" y1="259.3" x2="659.4" y2="255.3" stroke="#6d6e71" stroke-width="0.7" />
<rect x="655.5" y="431.7" width="3.2" height="3" fill="#fff" />
<line x1="654.6" y1="435.2" x2="656.6" y2="431.2" stroke="#6d6e71" stroke-width="0.7" />
<line x1="657.4" y1="435.2" x2="659.4" y2="431.2" stroke="#6d6e71" stroke-width="0.7" />
<text x="0" y="0" font-size="9.5" fill="#231f20" transform="translate(530.6 345) rotate(-90)" text-anchor="middle" stroke="#231f20">On/off ratio (log)</text>
<text x="618" y="458" font-size="9.3" text-anchor="middle" font-weight="normal" fill="#231f20"  stroke="#231f20">Channel length (μm)</text>
<polygon points="568,292.1 572.3,296.4 568,300.7 563.7,296.4" fill="none" stroke="#9c9cf0" stroke-width="0.9" />
<polygon points="551.8,324.9 556.1,329.2 551.8,333.5 547.5,329.2" fill="none" stroke="#9c9cf0" stroke-width="0.9" />
<polygon points="672.5,324.5 676.8,328.8 672.5,333.1 668.2,328.8" fill="none" stroke="#9c9cf0" stroke-width="0.9" />
<polygon points="551.3,357 555.6,361.3 551.3,365.6 547,361.3" fill="none" stroke="#9c9cf0" stroke-width="0.9" />
<polygon points="556.1,357 560.4,361.3 556.1,365.6 551.8,361.3" fill="none" stroke="#9c9cf0" stroke-width="0.9" />
<polygon points="568.6,357 572.9,361.3 568.6,365.6 564.3,361.3" fill="none" stroke="#9c9cf0" stroke-width="0.9" />
<polygon points="550.7,373.7 555,378 550.7,382.3 546.4,378" fill="none" stroke="#9c9cf0" stroke-width="0.9" />
<polygon points="556.1,369.7 560.4,374 556.1,378.3 551.8,374" fill="none" stroke="#9c9cf0" stroke-width="0.9" />
<polygon points="556.1,373.7 560.4,378 556.1,382.3 551.8,378" fill="none" stroke="#9c9cf0" stroke-width="0.9" />
<polygon points="581,373.7 585.3,378 581,382.3 576.7,378" fill="none" stroke="#9c9cf0" stroke-width="0.9" />
<polygon points="563.8,389.7 568.1,394 563.8,398.3 559.5,394" fill="none" stroke="#9c9cf0" stroke-width="0.9" />
<polygon points="589,422.1 593.3,426.4 589,430.7 584.7,426.4" fill="none" stroke="#9c9cf0" stroke-width="0.9" />
<polygon points="597.5,279.2 598.68,282.18 601.87,282.38 599.4,284.42 600.2,287.52 597.5,285.8 594.8,287.52 595.6,284.42 593.13,282.38 596.32,282.18" fill="none" stroke="#f0c23c" stroke-width="0.9" />
<polygon points="652,318.1 653.18,321.08 656.37,321.28 653.9,323.32 654.7,326.42 652,324.7 649.3,326.42 650.1,323.32 647.63,321.28 650.82,321.08" fill="none" stroke="#f0c23c" stroke-width="0.9" />
<text x="656.3" y="275.2" font-size="8.3" text-anchor="middle" font-weight="normal" fill="#f5c55c"  stroke="#f5c55c">This work</text>
<text x="656.3" y="286.2" font-size="8.3" text-anchor="middle" font-weight="normal" fill="#f5c55c"  stroke="#f5c55c">(Inorganic Se)</text>
<text x="629.9" y="403" font-size="9.3" text-anchor="middle" font-weight="normal" fill="#a4a4f0"  stroke="#a4a4f0">Ref.</text>
<text x="632.4" y="414.6" font-size="9.3" text-anchor="middle" font-weight="normal" fill="#a4a4f0"  stroke="#a4a4f0">(Organic resist)</text>
<text x="218.6" y="8.1" font-size="11" text-anchor="start" font-weight="bold" fill="#000"  stroke="#000">b</text>
<rect x="226.2" y="29.1" width="93.3" height="67.4" fill="#f36ff0" />
<polygon points="258.7,63.8 275.8,52.1 283.5,49.9 284.5,50.7 285.5,56.5 278.2,59.4 275.8,59.9 266,68.2 270.9,77.4 269,77.4 264.6,70.1 261.7,68.2 259.2,65.8" fill="#3ee6d9" stroke="none" stroke-width="1" />
<text x="269.4" y="46.8" font-size="9" text-anchor="middle" font-weight="normal" fill="#231f20"  stroke="#231f20">Se/BP</text>
<line x1="297.2" y1="93.8" x2="313.7" y2="93.8" stroke="#fff" stroke-width="1.5" />
<text x="305.7" y="89.9" font-size="8.3" text-anchor="middle" font-weight="normal" fill="#fff"  stroke="#fff">10 μm</text>
<circle cx="308.7" cy="42.3" r="0.8" fill="#e8f0ff"/>
<defs><linearGradient id="garr" x1="0" y1="0" x2="0" y2="1"><stop offset="0" stop-color="#a6a6a6"/><stop offset="1" stop-color="#e2e2e2"/></linearGradient></defs>
<polygon points="271,102.1 277.9,102.1 277.9,112.3 281.1,112.3 274.5,118.9 268.1,112.3 271,112.3" fill="url(#garr)" stroke="none" stroke-width="1" />
<rect x="226.5" y="124" width="93.2" height="66.5" fill="#b957e3" />
<polygon points="226.5,173.2 269.2,150.3 272.6,151.2 275.4,157 276.4,164.4 233.2,190.5 226.5,190.5" fill="#fdfbe8" stroke="none" stroke-width="1" />
<polygon points="278,144.8 313.5,124 319.7,124 319.7,139.2 284.3,159.3 281.2,157.3 278.6,151" fill="#fdfbe8" stroke="none" stroke-width="1" />
<polygon points="273,154.9 278.3,150.5 281.7,155.4 275.9,159.3" fill="#3f8ef4" stroke="none" stroke-width="1" />
<polygon points="272,164.5 274,163.8 278.2,172.6 276.8,172.4" fill="#45a2f6" stroke="none" stroke-width="1" />
<text x="268.6" y="148.6" font-size="9" text-anchor="middle" font-weight="normal" fill="#231f20"  stroke="#231f20">BP</text>
<text x="249" y="172.7" font-size="9" text-anchor="middle" font-weight="normal" fill="#231f20"  stroke="#231f20">Au</text>
<text x="301.9" y="142.7" font-size="9" text-anchor="middle" font-weight="normal" fill="#231f20"  stroke="#231f20">Au</text>
</svg>
</body></html>
